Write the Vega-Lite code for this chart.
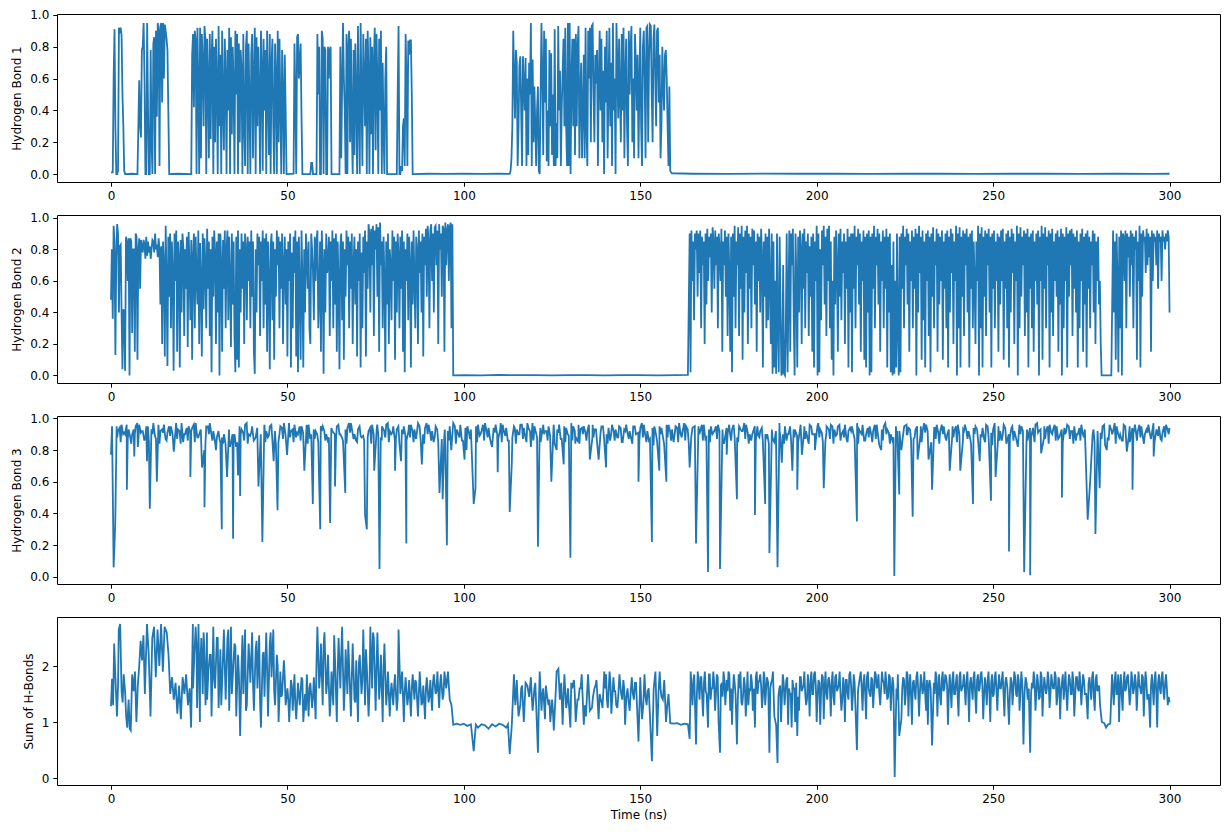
{
"$schema": "https://vega.github.io/schema/vega-lite/v6.json",
"padding": {"left": 10, "top": 8, "right": 5, "bottom": 5},
"spacing": 33,
"bounds": "flush",
"config": {
  "view": {"stroke": "black", "strokeWidth": 1},
  "axis": {"domain": false, "grid": false, "tickColor": "black", "tickSize": 4.2, "tickWidth": 1, "labelFont": "DejaVu Sans", "labelFontSize": 12, "labelColor": "black", "titleFont": "DejaVu Sans", "titleFontSize": 12, "titleFontWeight": "normal", "titleColor": "black", "labelPadding": 4, "titlePadding": 6},
  "line": {"color": "#1f77b4", "strokeWidth": 1.8}
},
"datasets": {
"h1": [
{"t":0,"v":0.01},{"t":0.25,"v":0.01},{"t":0.5,"v":0.01},{"t":0.75,"v":0.6},{"t":1,"v":0.91},{"t":1.25,"v":0.3},{"t":1.5,"v":0},{"t":1.75,"v":0},{"t":2,"v":0.02},{"t":2.25,"v":0.92},{"t":2.5,"v":0.9},{"t":2.75,"v":0.92},{"t":3,"v":0.87},{"t":3.25,"v":0.5},{"t":3.5,"v":0.3},{"t":3.75,"v":0.02},{"t":4,"v":0},{"t":6,"v":0.002},{"t":7.5,"v":0},
{"t":8,"v":0.59},{"t":8.25,"v":0.3},{"t":8.5,"v":0.23},{"t":8.75,"v":0.78},{"t":9,"v":0.8},{"t":9.25,"v":0.95},{"t":9.5,"v":0.6},{"t":9.75,"v":0},{"t":10,"v":0},{"t":10.25,"v":0.95},{"t":10.5,"v":0.4},{"t":10.75,"v":0},{"t":11,"v":0},{"t":11.25,"v":0.78},{"t":11.5,"v":0.2},{"t":11.75,"v":0},{"t":12,"v":0.82},{"t":12.25,"v":0.86},{"t":12.5,"v":0},{"t":12.75,"v":0.9},{"t":13,"v":0.36},{"t":13.25,"v":0.95},{"t":13.5,"v":0.9},{"t":13.75,"v":0.05},{"t":14,"v":0.93},{"t":14.25,"v":0.95},{"t":14.5,"v":0.45},{"t":14.75,"v":0.95},{"t":15,"v":0.6},{"t":15.25,"v":0.94},{"t":15.5,"v":0.9},{"t":15.75,"v":0.85},{"t":16,"v":0.78},{"t":16.25,"v":0.4},{"t":16.5,"v":0},{"t":19,"v":0.002},{"t":22.5,"v":0},{"t":22.75,"v":0},
{"t":23,"v":0.75},{"t":23.25,"v":0.88},{"t":23.5,"v":0.42},{"t":23.75,"v":0.9},
{"t":24,"v":0.84},{"t":24.25,"v":0},{"t":24.5,"v":0.92},{"t":24.75,"v":0.55},
{"t":25,"v":0},{"t":25.25,"v":0.92},{"t":25.5,"v":0.1},{"t":25.75,"v":0.88},
{"t":26,"v":0.7},{"t":26.25,"v":0.3},{"t":26.5,"v":0.93},{"t":26.75,"v":0.85},
{"t":27,"v":0},{"t":27.25,"v":0.85},{"t":27.5,"v":0.6},{"t":27.75,"v":0.1},
{"t":28,"v":0.88},{"t":28.25,"v":0.22},{"t":28.5,"v":0.74},{"t":28.75,"v":0.9},
{"t":29,"v":0},{"t":29.25,"v":0.8},{"t":29.5,"v":0.2},{"t":29.75,"v":0.85},
{"t":30,"v":0.56},{"t":30.25,"v":0},{"t":30.5,"v":0.93},{"t":30.75,"v":0.3},
{"t":31,"v":0.75},{"t":31.25,"v":0},{"t":31.5,"v":0.9},{"t":31.75,"v":0.45},
{"t":32,"v":0.15},{"t":32.25,"v":0.85},{"t":32.5,"v":0.6},{"t":32.75,"v":0},
{"t":33,"v":0.78},{"t":33.25,"v":0.4},{"t":33.5,"v":0.92},{"t":33.75,"v":0},
{"t":34,"v":0.86},{"t":34.25,"v":0.25},{"t":34.5,"v":0.8},{"t":34.75,"v":0.55},
{"t":35,"v":0},{"t":35.25,"v":0.9},{"t":35.5,"v":0.5},{"t":35.75,"v":0.88},
{"t":36,"v":0},{"t":36.25,"v":0.82},{"t":36.5,"v":0.2},{"t":36.75,"v":0.78},
{"t":37,"v":0.65},{"t":37.25,"v":0},{"t":37.5,"v":0.88},{"t":37.75,"v":0.35},
{"t":38,"v":0.05},{"t":38.25,"v":0.8},{"t":38.5,"v":0.9},{"t":38.75,"v":0},
{"t":39,"v":0.82},{"t":39.25,"v":0.45},{"t":39.5,"v":0},{"t":39.75,"v":0.75},
{"t":40,"v":0.88},{"t":40.25,"v":0.1},{"t":40.5,"v":0.6},{"t":40.75,"v":0.92},
{"t":41,"v":0},{"t":41.25,"v":0.86},{"t":41.5,"v":0.3},{"t":41.75,"v":0.8},
{"t":42,"v":0.5},{"t":42.25,"v":0},{"t":42.5,"v":0.9},{"t":42.75,"v":0.65},
{"t":43,"v":0.02},{"t":43.25,"v":0.85},{"t":43.5,"v":0.4},{"t":43.75,"v":0.78},
{"t":44,"v":0},{"t":44.25,"v":0.9},{"t":44.5,"v":0.55},{"t":44.75,"v":0.12},
{"t":45,"v":0.88},{"t":45.25,"v":0},{"t":45.5,"v":0.7},{"t":45.75,"v":0.85},
{"t":46,"v":0.3},{"t":46.25,"v":0},{"t":46.5,"v":0.82},{"t":46.75,"v":0.6},
{"t":47,"v":0},{"t":47.25,"v":0.9},{"t":47.5,"v":0.2},{"t":47.75,"v":0.85},
{"t":48,"v":0.45},{"t":48.25,"v":0},{"t":48.5,"v":0.78},{"t":48.75,"v":0.5},
{"t":49,"v":0},{"t":49.25,"v":0.75},{"t":49.5,"v":0.4},{"t":49.75,"v":0},
{"t":50,"v":0},{"t":51.75,"v":0.002},
{"t":52,"v":0.82},{"t":52.25,"v":0.5},{"t":52.5,"v":0},{"t":52.75,"v":0.86},{"t":53,"v":0.88},{"t":53.25,"v":0.6},{"t":53.5,"v":0.7},{"t":53.75,"v":0.82},{"t":54,"v":0.35},{"t":54.25,"v":0},{"t":54.5,"v":0},{"t":56.5,"v":0},{"t":56.75,"v":0.07},{"t":57,"v":0.07},{"t":57.25,"v":0},{"t":58.25,"v":0},
{"t":58.5,"v":0.88},{"t":58.75,"v":0.5},{"t":59,"v":0.8},{"t":59.25,"v":0},{"t":59.5,"v":0},{"t":59.75,"v":0.9},{"t":60,"v":0.85},{"t":60.25,"v":0},{"t":60.5,"v":0.8},{"t":60.75,"v":0.78},{"t":61,"v":0},{"t":61.25,"v":0},{"t":61.5,"v":0.8},{"t":61.75,"v":0.6},{"t":62,"v":0.78},{"t":62.25,"v":0.8},{"t":62.5,"v":0},{"t":64.5,"v":0},{"t":64.75,"v":0},
{"t":65,"v":0.8},{"t":65.25,"v":0.1},{"t":65.5,"v":0.55},{"t":65.75,"v":0.95},
{"t":66,"v":0.6},{"t":66.25,"v":0.4},{"t":66.5,"v":0},{"t":66.75,"v":0.88},
{"t":67,"v":0},{"t":67.25,"v":0.8},{"t":67.5,"v":0.9},{"t":67.75,"v":0.2},
{"t":68,"v":0.85},{"t":68.25,"v":0.3},{"t":68.5,"v":0},{"t":68.75,"v":0.78},
{"t":69,"v":0.12},{"t":69.25,"v":0.82},{"t":69.5,"v":0.5},{"t":69.75,"v":0},
{"t":70,"v":0.93},{"t":70.25,"v":0.4},{"t":70.5,"v":0},{"t":70.75,"v":0.95},
{"t":71,"v":0.5},{"t":71.25,"v":0.05},{"t":71.5,"v":0.88},{"t":71.75,"v":0.6},
{"t":72,"v":0.3},{"t":72.25,"v":0.85},{"t":72.5,"v":0},{"t":72.75,"v":0.9},
{"t":73,"v":0.62},{"t":73.25,"v":0},{"t":73.5,"v":0.86},{"t":73.75,"v":0.25},
{"t":74,"v":0.8},{"t":74.25,"v":0},{"t":74.5,"v":0.7},{"t":74.75,"v":0.92},
{"t":75,"v":0.15},{"t":75.25,"v":0.88},{"t":75.5,"v":0.6},{"t":75.75,"v":0},
{"t":76,"v":0.85},{"t":76.25,"v":0.4},{"t":76.5,"v":0.9},{"t":76.75,"v":0},
{"t":77,"v":0.7},{"t":77.25,"v":0.25},{"t":77.5,"v":0},{"t":77.75,"v":0.6},
{"t":78,"v":0.8},{"t":78.25,"v":0},{"t":78.5,"v":0},{"t":81,"v":0},
{"t":81.25,"v":0.5},{"t":81.5,"v":0.93},{"t":81.75,"v":0},
{"t":82,"v":0},{"t":82.25,"v":0.05},{"t":82.5,"v":0.02},{"t":82.75,"v":0.3},
{"t":83,"v":0.35},{"t":83.25,"v":0.05},{"t":83.5,"v":0.88},{"t":83.75,"v":0.6},
{"t":84,"v":0.05},{"t":84.25,"v":0.84},{"t":84.5,"v":0.75},{"t":84.75,"v":0.84},
{"t":85,"v":0.84},{"t":85.25,"v":0.5},{"t":85.5,"v":0},
{"t":90,"v":0.002},{"t":95,"v":0.001},{"t":100,"v":0.002},{"t":105,"v":0.001},{"t":110,"v":0.002},{"t":113,"v":0.001},{"t":113.25,"v":0.02},{"t":113.5,"v":0.1},{"t":113.75,"v":0.3},
{"t":114,"v":0.9},{"t":114.25,"v":0.6},{"t":114.5,"v":0.35},{"t":114.75,"v":0.78},
{"t":115,"v":0.7},{"t":115.25,"v":0.05},{"t":115.5,"v":0.3},{"t":115.75,"v":0.68},
{"t":116,"v":0.74},{"t":116.25,"v":0.4},{"t":116.5,"v":0.05},{"t":116.75,"v":0.74},
{"t":117,"v":0.55},{"t":117.25,"v":0.4},{"t":117.5,"v":0.73},{"t":117.75,"v":0.05},
{"t":118,"v":0.6},{"t":118.25,"v":0.12},{"t":118.5,"v":0.7},{"t":118.75,"v":0.5},
{"t":119,"v":0.95},{"t":119.25,"v":0.05},{"t":119.5,"v":0.72},{"t":119.75,"v":0.2},
{"t":120,"v":0.55},{"t":120.25,"v":0.3},{"t":120.5,"v":0.05},{"t":120.75,"v":0.4},
{"t":121,"v":0.55},{"t":121.25,"v":0.02},{"t":121.5,"v":0},{"t":121.75,"v":0.5},
{"t":122,"v":0.95},{"t":122.25,"v":0.6},{"t":122.5,"v":0.12},{"t":122.75,"v":0.9},
{"t":123,"v":0.45},{"t":123.25,"v":0.85},{"t":123.5,"v":0.08},{"t":123.75,"v":0.4},
{"t":124,"v":0.05},{"t":124.25,"v":0.78},{"t":124.5,"v":0.3},{"t":124.75,"v":0.76},
{"t":125,"v":0.12},{"t":125.25,"v":0.5},{"t":125.5,"v":0.05},{"t":125.75,"v":0.91},
{"t":126,"v":0.05},{"t":126.25,"v":0.32},{"t":126.5,"v":0.1},{"t":126.75,"v":0.93},
{"t":127,"v":0.4},{"t":127.25,"v":0.65},{"t":127.5,"v":0.05},{"t":127.75,"v":0.42},
{"t":128,"v":0.65},{"t":128.25,"v":0.85},{"t":128.5,"v":0.3},{"t":128.75,"v":0.92},
{"t":129,"v":0.3},{"t":129.25,"v":0.05},{"t":129.5,"v":0.95},{"t":129.75,"v":0.05},
{"t":130,"v":0.95},{"t":130.25,"v":0},{"t":130.5,"v":0.6},{"t":130.75,"v":0.85},
{"t":131,"v":0.3},{"t":131.25,"v":0.85},{"t":131.5,"v":0.12},{"t":131.75,"v":0.88},
{"t":132,"v":0.3},{"t":132.25,"v":0.8},{"t":132.5,"v":0.93},{"t":132.75,"v":0.1},
{"t":133,"v":0.5},{"t":133.25,"v":0.7},{"t":133.5,"v":0.1},{"t":133.75,"v":0.4},
{"t":134,"v":0.75},{"t":134.25,"v":0.1},{"t":134.5,"v":0.92},{"t":134.75,"v":0.3},
{"t":135,"v":0.05},{"t":135.25,"v":0.9},{"t":135.5,"v":0.6},{"t":135.75,"v":0.92},
{"t":136,"v":0.2},{"t":136.25,"v":0.93},{"t":136.5,"v":0.94},{"t":136.75,"v":0.5},
{"t":137,"v":0.2},{"t":137.25,"v":0.75},{"t":137.5,"v":0.57},{"t":137.75,"v":0.78},
{"t":138,"v":0.05},{"t":138.25,"v":0.6},{"t":138.5,"v":0.9},{"t":138.75,"v":0.4},
{"t":139,"v":0.85},{"t":139.25,"v":0.2},{"t":139.5,"v":0.65},{"t":139.75,"v":0},
{"t":140,"v":0.8},{"t":140.25,"v":0.45},{"t":140.5,"v":0.9},{"t":140.75,"v":0.1},
{"t":141,"v":0.55},{"t":141.25,"v":0.92},{"t":141.5,"v":0.3},{"t":141.75,"v":0.7},
{"t":142,"v":0.05},{"t":142.25,"v":0.95},{"t":142.5,"v":0.4},{"t":142.75,"v":0.6},
{"t":143,"v":0},{"t":143.25,"v":0.95},{"t":143.5,"v":0.7},{"t":143.75,"v":0.35},
{"t":144,"v":0.85},{"t":144.25,"v":0.5},{"t":144.5,"v":0.2},{"t":144.75,"v":0.88},
{"t":145,"v":0.4},{"t":145.25,"v":0.92},{"t":145.5,"v":0.1},{"t":145.75,"v":0.6},
{"t":146,"v":0.85},{"t":146.25,"v":0.3},{"t":146.5,"v":0.05},{"t":146.75,"v":0.9},
{"t":147,"v":0.5},{"t":147.25,"v":0.8},{"t":147.5,"v":0.93},{"t":147.75,"v":0.2},
{"t":148,"v":0.6},{"t":148.25,"v":0.1},{"t":148.5,"v":0.88},{"t":148.75,"v":0.7},
{"t":149,"v":0.4},{"t":149.25,"v":0.75},{"t":149.5,"v":0.1},{"t":149.75,"v":0.55},
{"t":150,"v":0.92},{"t":150.25,"v":0.3},{"t":150.5,"v":0.05},{"t":150.75,"v":0.8},
{"t":151,"v":0.9},{"t":151.25,"v":0.6},{"t":151.5,"v":0.1},{"t":151.75,"v":0.92},
{"t":152,"v":0.93},{"t":152.25,"v":0.2},{"t":152.5,"v":0.75},{"t":152.75,"v":0.94},
{"t":153,"v":0.93},{"t":153.25,"v":0.5},{"t":153.5,"v":0.2},{"t":153.75,"v":0.85},
{"t":154,"v":0.94},{"t":154.25,"v":0.6},{"t":154.5,"v":0.3},{"t":154.75,"v":0.9},
{"t":155,"v":0.92},{"t":155.25,"v":0.45},{"t":155.5,"v":0.75},{"t":155.75,"v":0.1},
{"t":156,"v":0.3},{"t":156.25,"v":0.8},{"t":156.5,"v":0.57},{"t":156.75,"v":0.4},
{"t":157,"v":0.75},{"t":157.25,"v":0.78},{"t":157.5,"v":0.6},{"t":157.75,"v":0.3},
{"t":158,"v":0.05},{"t":158.25,"v":0.55},{"t":158.5,"v":0.02},{"t":158.75,"v":0.01},{"t":159,"v":0.005},
{"t":165,"v":0.002},{"t":175,"v":0.001},{"t":185,"v":0.003},{"t":195,"v":0.002},{"t":205,"v":0.002},{"t":215,"v":0.001},{"t":225,"v":0.002},{"t":235,"v":0.002},{"t":245,"v":0.001},{"t":255,"v":0.002},{"t":265,"v":0.002},{"t":275,"v":0.001},{"t":285,"v":0.002},{"t":295,"v":0.001},{"t":300,"v":0.002}
],
"h2": [
{"t":0,"v":0.48},{"t":0.25,"v":0.8},{"t":0.5,"v":0.36},{"t":0.75,"v":0.95},
{"t":1,"v":0.85},{"t":1.25,"v":0.13},{"t":1.5,"v":0.75},{"t":1.75,"v":0.96},
{"t":2,"v":0.9},{"t":2.25,"v":0.4},{"t":2.5,"v":0.82},{"t":2.75,"v":0.83},
{"t":3,"v":0.4},{"t":3.25,"v":0.04},{"t":3.5,"v":0.42},{"t":3.75,"v":0.4},
{"t":4,"v":0.03},{"t":4.25,"v":0.88},{"t":4.5,"v":0.85},{"t":4.75,"v":0.6},
{"t":5,"v":0.87},{"t":5.25,"v":0},{"t":5.5,"v":0.87},{"t":5.75,"v":0.85},
{"t":6,"v":0.27},{"t":6.25,"v":0.8},{"t":6.5,"v":0.8},{"t":6.75,"v":0.15},
{"t":7,"v":0.9},{"t":7.25,"v":0.88},{"t":7.5,"v":0.1},{"t":7.75,"v":0.8},
{"t":8,"v":0.87},{"t":8.25,"v":0.55},{"t":8.5,"v":0.86},{"t":8.75,"v":0.82},
{"t":9,"v":0.78},{"t":9.25,"v":0.86},{"t":9.5,"v":0.83},{"t":9.75,"v":0.74},
{"t":10,"v":0.88},{"t":10.25,"v":0.76},{"t":10.5,"v":0.85},{"t":10.75,"v":0.78},
{"t":11,"v":0.82},{"t":11.25,"v":0.74},{"t":11.5,"v":0.8},{"t":11.75,"v":0.86},
{"t":12,"v":0.85},{"t":12.25,"v":0.78},{"t":12.5,"v":0.9},{"t":12.75,"v":0.8},
{"t":13,"v":0.83},{"t":13.25,"v":0.75},{"t":13.5,"v":0.87},{"t":13.75,"v":0.8},
{"t":14,"v":0.45},{"t":14.25,"v":0.82},{"t":14.5,"v":0.2},{"t":14.75,"v":0.85},
{"t":15,"v":0.7},{"t":15.25,"v":0.12},{"t":15.5,"v":0.95},{"t":15.75,"v":0.6},
{"t":16,"v":0.06},{"t":16.25,"v":0.88},{"t":16.5,"v":0.5},{"t":16.75,"v":0.9},
{"t":17,"v":0.3},{"t":17.25,"v":0.85},{"t":17.5,"v":0.65},{"t":17.75,"v":0.03},
{"t":18,"v":0.9},{"t":18.25,"v":0.6},{"t":18.5,"v":0.92},{"t":18.75,"v":0.15},
{"t":19,"v":0.85},{"t":19.25,"v":0.75},{"t":19.5,"v":0.05},{"t":19.75,"v":0.86},
{"t":20,"v":0.4},{"t":20.25,"v":0.9},{"t":20.5,"v":0.82},{"t":20.75,"v":0.25},
{"t":21,"v":0.8},{"t":21.25,"v":0.55},{"t":21.5,"v":0.88},{"t":21.75,"v":0.18},
{"t":22,"v":0.91},{"t":22.25,"v":0.7},{"t":22.5,"v":0.35},{"t":22.75,"v":0.86},
{"t":23,"v":0.1},{"t":23.25,"v":0.75},{"t":23.5,"v":0.9},{"t":23.75,"v":0.3},
{"t":24,"v":0.88},{"t":24.25,"v":0.62},{"t":24.5,"v":0.45},{"t":24.75,"v":0.92},
{"t":25,"v":0.2},{"t":25.25,"v":0.84},{"t":25.5,"v":0.6},{"t":25.75,"v":0.12},
{"t":26,"v":0.9},{"t":26.25,"v":0.42},{"t":26.5,"v":0.87},{"t":26.75,"v":0.7},
{"t":27,"v":0.3},{"t":27.25,"v":0.93},{"t":27.5,"v":0.55},{"t":27.75,"v":0.85},
{"t":28,"v":0.25},{"t":28.25,"v":0.8},{"t":28.5,"v":0.02},{"t":28.75,"v":0.88},
{"t":29,"v":0.5},{"t":29.25,"v":0.92},{"t":29.5,"v":0.78},{"t":29.75,"v":0.2},
{"t":30,"v":0.85},{"t":30.25,"v":0.4},{"t":30.5,"v":0.9},{"t":30.75,"v":0},
{"t":31,"v":0.9},{"t":31.25,"v":0.7},{"t":31.5,"v":0.15},{"t":31.75,"v":0.86},
{"t":32,"v":0.55},{"t":32.25,"v":0.92},{"t":32.5,"v":0.3},{"t":32.75,"v":0.8},
{"t":33,"v":0.92},{"t":33.25,"v":0.35},{"t":33.5,"v":0.88},{"t":33.75,"v":0.6},
{"t":34,"v":0.18},{"t":34.25,"v":0.9},{"t":34.5,"v":0.45},{"t":34.75,"v":0.85},
{"t":35,"v":0.25},{"t":35.25,"v":0.02},{"t":35.5,"v":0.88},{"t":35.75,"v":0.1},
{"t":36,"v":0.92},{"t":36.25,"v":0.05},{"t":36.5,"v":0.8},{"t":36.75,"v":0.4},
{"t":37,"v":0.9},{"t":37.25,"v":0.55},{"t":37.5,"v":0.85},{"t":37.75,"v":0.2},
{"t":38,"v":0.9},{"t":38.25,"v":0.8},{"t":38.5,"v":0.35},{"t":38.75,"v":0.88},
{"t":39,"v":0.6},{"t":39.25,"v":0.85},{"t":39.5,"v":0.3},{"t":39.75,"v":0.92},
{"t":40,"v":0.5},{"t":40.25,"v":0.85},{"t":40.5,"v":0.15},{"t":40.75,"v":0.01},
{"t":41,"v":0.8},{"t":41.25,"v":0.4},{"t":41.5,"v":0.9},{"t":41.75,"v":0.7},
{"t":42,"v":0.88},{"t":42.25,"v":0.25},{"t":42.5,"v":0.85},{"t":42.75,"v":0.6},
{"t":43,"v":0.92},{"t":43.25,"v":0.3},{"t":43.5,"v":0.87},{"t":43.75,"v":0.45},
{"t":44,"v":0.9},{"t":44.25,"v":0.15},{"t":44.5,"v":0.85},{"t":44.75,"v":0.6},
{"t":45,"v":0.04},{"t":45.25,"v":0.82},{"t":45.5,"v":0.9},{"t":45.75,"v":0.35},
{"t":46,"v":0.85},{"t":46.25,"v":0.1},{"t":46.5,"v":0.8},{"t":46.75,"v":0.5},
{"t":47,"v":0.92},{"t":47.25,"v":0.7},{"t":47.5,"v":0.88},{"t":47.75,"v":0.3},
{"t":48,"v":0.85},{"t":48.25,"v":0.55},{"t":48.5,"v":0.9},{"t":48.75,"v":0.2},
{"t":49,"v":0.7},{"t":49.25,"v":0.88},{"t":49.5,"v":0.45},{"t":49.75,"v":0.8},
{"t":50,"v":0.12},{"t":50.25,"v":0.85},{"t":50.5,"v":0.6},{"t":50.75,"v":0.9},
{"t":51,"v":0.05},{"t":51.25,"v":0.78},{"t":51.5,"v":0.3},{"t":51.75,"v":0.88},
{"t":52,"v":0.65},{"t":52.25,"v":0.92},{"t":52.5,"v":0.12},{"t":52.75,"v":0.85},
{"t":53,"v":0.02},{"t":53.25,"v":0.88},{"t":53.5,"v":0.55},{"t":53.75,"v":0.1},
{"t":54,"v":0.92},{"t":54.25,"v":0.6},{"t":54.5,"v":0.05},{"t":54.75,"v":0.8},
{"t":55,"v":0.4},{"t":55.25,"v":0.9},{"t":55.5,"v":0.75},{"t":55.75,"v":0.55},
{"t":56,"v":0.85},{"t":56.25,"v":0.3},{"t":56.5,"v":0.2},{"t":56.75,"v":0.9},
{"t":57,"v":0.8},{"t":57.25,"v":0.65},{"t":57.5,"v":0.35},{"t":57.75,"v":0.88},
{"t":58,"v":0.6},{"t":58.25,"v":0.85},{"t":58.5,"v":0.92},{"t":58.75,"v":0.3},
{"t":59,"v":0.5},{"t":59.25,"v":0.85},{"t":59.5,"v":0.15},{"t":59.75,"v":0.92},
{"t":60,"v":0.7},{"t":60.25,"v":0.01},{"t":60.5,"v":0.8},{"t":60.75,"v":0.4},
{"t":61,"v":0.9},{"t":61.25,"v":0.65},{"t":61.5,"v":0.7},{"t":61.75,"v":0.88},
{"t":62,"v":0.25},{"t":62.25,"v":0.85},{"t":62.5,"v":0.6},{"t":62.75,"v":0.92},
{"t":63,"v":0.3},{"t":63.25,"v":0.87},{"t":63.5,"v":0.45},{"t":63.75,"v":0.9},
{"t":64,"v":0.15},{"t":64.25,"v":0.85},{"t":64.5,"v":0.6},{"t":64.75,"v":0.04},
{"t":65,"v":0.82},{"t":65.25,"v":0.9},{"t":65.5,"v":0.35},{"t":65.75,"v":0.85},
{"t":66,"v":0.1},{"t":66.25,"v":0.8},{"t":66.5,"v":0.5},{"t":66.75,"v":0.92},
{"t":67,"v":0.7},{"t":67.25,"v":0.88},{"t":67.5,"v":0.3},{"t":67.75,"v":0.85},
{"t":68,"v":0.55},{"t":68.25,"v":0.9},{"t":68.5,"v":0.2},{"t":68.75,"v":0.7},
{"t":69,"v":0.88},{"t":69.25,"v":0.45},{"t":69.5,"v":0.8},{"t":69.75,"v":0.12},
{"t":70,"v":0.85},{"t":70.25,"v":0.6},{"t":70.5,"v":0.9},{"t":70.75,"v":0.05},
{"t":71,"v":0.78},{"t":71.25,"v":0.3},{"t":71.5,"v":0.88},{"t":71.75,"v":0.65},
{"t":72,"v":0.92},{"t":72.25,"v":0.12},{"t":72.5,"v":0.85},{"t":72.75,"v":0.55},
{"t":73,"v":0.96},{"t":73.25,"v":0.9},{"t":73.5,"v":0.4},{"t":73.75,"v":0.93},
{"t":74,"v":0.7},{"t":74.25,"v":0.95},{"t":74.5,"v":0.25},{"t":74.75,"v":0.92},
{"t":75,"v":0.8},{"t":75.25,"v":0.96},{"t":75.5,"v":0.5},{"t":75.75,"v":0.94},
{"t":76,"v":0.15},{"t":76.25,"v":0.97},{"t":76.5,"v":0.7},{"t":76.75,"v":0.85},
{"t":77,"v":0.3},{"t":77.25,"v":0.88},{"t":77.5,"v":0.6},{"t":77.75,"v":0.02},
{"t":78,"v":0.85},{"t":78.25,"v":0.45},{"t":78.5,"v":0.9},{"t":78.75,"v":0.2},
{"t":79,"v":0.8},{"t":79.25,"v":0.7},{"t":79.5,"v":0.35},{"t":79.75,"v":0.92},
{"t":80,"v":0.6},{"t":80.25,"v":0.88},{"t":80.5,"v":0.1},{"t":80.75,"v":0.85},
{"t":81,"v":0.4},{"t":81.25,"v":0.9},{"t":81.5,"v":0.75},{"t":81.75,"v":0.3},
{"t":82,"v":0.88},{"t":82.25,"v":0.55},{"t":82.5,"v":0.92},{"t":82.75,"v":0.15},
{"t":83,"v":0.85},{"t":83.25,"v":0.02},{"t":83.5,"v":0.8},{"t":83.75,"v":0.6},
{"t":84,"v":0.9},{"t":84.25,"v":0.35},{"t":84.5,"v":0.88},{"t":84.75,"v":0.7},
{"t":85,"v":0.05},{"t":85.25,"v":0.85},{"t":85.5,"v":0.45},{"t":85.75,"v":0.92},
{"t":86,"v":0.6},{"t":86.25,"v":0.3},{"t":86.5,"v":0.88},{"t":86.75,"v":0.8},
{"t":87,"v":0.2},{"t":87.25,"v":0.92},{"t":87.5,"v":0.65},{"t":87.75,"v":0.85},
{"t":88,"v":0.4},{"t":88.25,"v":0.9},{"t":88.5,"v":0.12},{"t":88.75,"v":0.88},
{"t":89,"v":0.7},{"t":89.25,"v":0.93},{"t":89.5,"v":0.5},{"t":89.75,"v":0.95},
{"t":90,"v":0.85},{"t":90.25,"v":0.3},{"t":90.5,"v":0.92},{"t":90.75,"v":0.96},
{"t":91,"v":0.6},{"t":91.25,"v":0.9},{"t":91.5,"v":0.4},{"t":91.75,"v":0.94},
{"t":92,"v":0.95},{"t":92.25,"v":0.7},{"t":92.5,"v":0.92},{"t":92.75,"v":0.2},
{"t":93,"v":0.96},{"t":93.25,"v":0.8},{"t":93.5,"v":0.9},{"t":93.75,"v":0.5},
{"t":94,"v":0.95},{"t":94.25,"v":0.93},{"t":94.5,"v":0.15},{"t":94.75,"v":0.97},
{"t":95,"v":0.7},{"t":95.25,"v":0.92},{"t":95.5,"v":0.96},{"t":95.75,"v":0.6},
{"t":96,"v":0.94},{"t":96.25,"v":0.97},{"t":96.5,"v":0.3},{"t":96.75,"v":0.96},{"t":97,"v":0},
{"t":100,"v":0.002},{"t":105,"v":0.001},{"t":110,"v":0.003},{"t":115,"v":0.002},{"t":120,"v":0.002},{"t":125,"v":0.001},{"t":130,"v":0.002},{"t":135,"v":0.002},{"t":140,"v":0.001},{"t":145,"v":0.002},{"t":150,"v":0.002},{"t":155,"v":0.001},{"t":160,"v":0.002},{"t":163.5,"v":0.004},
{"t":164,"v":0.9},{"t":164.25,"v":0.02},{"t":164.5,"v":0.92},{"t":164.75,"v":0.6},
{"t":165,"v":0.85},{"t":165.25,"v":0.35},{"t":165.5,"v":0.9},{"t":165.75,"v":0.8},
{"t":166,"v":0.92},{"t":166.25,"v":0.5},{"t":166.5,"v":0.9},{"t":166.75,"v":0.65},
{"t":167,"v":0.92},{"t":167.25,"v":0.3},{"t":167.5,"v":0.88},{"t":167.75,"v":0.7},
{"t":168,"v":0.85},{"t":168.25,"v":0.2},{"t":168.5,"v":0.9},{"t":168.75,"v":0.45},
{"t":169,"v":0.93},{"t":169.25,"v":0.6},{"t":169.5,"v":0.88},{"t":169.75,"v":0.75},
{"t":170,"v":0.9},{"t":170.25,"v":0.4},{"t":170.5,"v":0.94},{"t":170.75,"v":0.85},
{"t":171,"v":0.55},{"t":171.25,"v":0.92},{"t":171.5,"v":0.7},{"t":171.75,"v":0.88},
{"t":172,"v":0.3},{"t":172.25,"v":0.9},{"t":172.5,"v":0.8},{"t":172.75,"v":0.6},
{"t":173,"v":0.93},{"t":173.25,"v":0.15},{"t":173.5,"v":0.85},{"t":173.75,"v":0.7},
{"t":174,"v":0.92},{"t":174.25,"v":0.5},{"t":174.5,"v":0.88},{"t":174.75,"v":0.25},
{"t":175,"v":0.9},{"t":175.25,"v":0.65},{"t":175.5,"v":0.15},{"t":175.75,"v":0.88},
{"t":176,"v":0.02},{"t":176.25,"v":0.9},{"t":176.5,"v":0.5},{"t":176.75,"v":0.95},
{"t":177,"v":0.3},{"t":177.25,"v":0.85},{"t":177.5,"v":0.7},{"t":177.75,"v":0.94},
{"t":178,"v":0.25},{"t":178.25,"v":0.9},{"t":178.5,"v":0.55},{"t":178.75,"v":0.95},
{"t":179,"v":0.1},{"t":179.25,"v":0.88},{"t":179.5,"v":0.4},{"t":179.75,"v":0.92},
{"t":180,"v":0.65},{"t":180.25,"v":0.95},{"t":180.5,"v":0.2},{"t":180.75,"v":0.9},
{"t":181,"v":0.55},{"t":181.25,"v":0.88},{"t":181.5,"v":0.3},{"t":181.75,"v":0.93},
{"t":182,"v":0.7},{"t":182.25,"v":0.92},{"t":182.5,"v":0.45},{"t":182.75,"v":0.85},
{"t":183,"v":0.15},{"t":183.25,"v":0.9},{"t":183.5,"v":0.6},{"t":183.75,"v":0.88},
{"t":184,"v":0.4},{"t":184.25,"v":0.93},{"t":184.5,"v":0.75},{"t":184.75,"v":0.05},
{"t":185,"v":0.85},{"t":185.25,"v":0.5},{"t":185.5,"v":0.9},{"t":185.75,"v":0.3},
{"t":186,"v":0.88},{"t":186.25,"v":0.35},{"t":186.5,"v":0.93},{"t":186.75,"v":0.6},
{"t":187,"v":0.2},{"t":187.25,"v":0.9},{"t":187.5,"v":0.01},{"t":187.75,"v":0.85},
{"t":188,"v":0.05},{"t":188.25,"v":0.6},{"t":188.5,"v":0.01},{"t":188.75,"v":0.9},
{"t":189,"v":0.3},{"t":189.25,"v":0.02},{"t":189.5,"v":0.88},{"t":189.75,"v":0.45},
{"t":190,"v":0},{"t":190.25,"v":0.02},{"t":190.5,"v":0.7},{"t":190.75,"v":0.01},
{"t":191,"v":0},{"t":191.25,"v":0.3},{"t":191.5,"v":0.9},{"t":191.75,"v":0.02},
{"t":192,"v":0.5},{"t":192.25,"v":0.92},{"t":192.5,"v":0.15},{"t":192.75,"v":0.9},
{"t":193,"v":0.7},{"t":193.25,"v":0.93},{"t":193.5,"v":0.35},{"t":193.75,"v":0},
{"t":194,"v":0.9},{"t":194.25,"v":0.6},{"t":194.5,"v":0.05},{"t":194.75,"v":0.88},
{"t":195,"v":0.4},{"t":195.25,"v":0.92},{"t":195.5,"v":0.8},{"t":195.75,"v":0.2},
{"t":196,"v":0.9},{"t":196.25,"v":0.55},{"t":196.5,"v":0.93},{"t":196.75,"v":0.3},
{"t":197,"v":0.85},{"t":197.25,"v":0.65},{"t":197.5,"v":0.9},{"t":197.75,"v":0.25},
{"t":198,"v":0.82},{"t":198.25,"v":0.5},{"t":198.5,"v":0.88},{"t":198.75,"v":0.15},
{"t":199,"v":0.9},{"t":199.25,"v":0.05},{"t":199.5,"v":0.85},{"t":199.75,"v":0.6},
{"t":200,"v":0.95},{"t":200.25,"v":0},{"t":200.5,"v":0.9},{"t":200.75,"v":0.02},
{"t":201,"v":0.8},{"t":201.25,"v":0.35},{"t":201.5,"v":0.92},{"t":201.75,"v":0.7},
{"t":202,"v":0.95},{"t":202.25,"v":0.45},{"t":202.5,"v":0.88},{"t":202.75,"v":0.25},
{"t":203,"v":0.93},{"t":203.25,"v":0.6},{"t":203.5,"v":0.95},{"t":203.75,"v":0.3},
{"t":204,"v":0.85},{"t":204.25,"v":0.1},{"t":204.5,"v":0.6},{"t":204.75,"v":0},
{"t":205,"v":0.88},{"t":205.25,"v":0.45},{"t":205.5,"v":0.92},{"t":205.75,"v":0.7},
{"t":206,"v":0.15},{"t":206.25,"v":0.9},{"t":206.5,"v":0.5},{"t":206.75,"v":0.93},
{"t":207,"v":0.35},{"t":207.25,"v":0.85},{"t":207.5,"v":0.65},{"t":207.75,"v":0.9},
{"t":208,"v":0.2},{"t":208.25,"v":0.85},{"t":208.5,"v":0.55},{"t":208.75,"v":0.93},
{"t":209,"v":0.05},{"t":209.25,"v":0.88},{"t":209.5,"v":0.4},{"t":209.75,"v":0.9},
{"t":210,"v":0.02},{"t":210.25,"v":0.9},{"t":210.5,"v":0.55},{"t":210.75,"v":0.95},
{"t":211,"v":0.3},{"t":211.25,"v":0.88},{"t":211.5,"v":0.7},{"t":211.75,"v":0.93},
{"t":212,"v":0.45},{"t":212.25,"v":0.9},{"t":212.5,"v":0.15},{"t":212.75,"v":0.85},
{"t":213,"v":0.6},{"t":213.25,"v":0.92},{"t":213.5,"v":0.1},{"t":213.75,"v":0.88},
{"t":214,"v":0.05},{"t":214.25,"v":0.9},{"t":214.5,"v":0.4},{"t":214.75,"v":0.92},
{"t":215,"v":0},{"t":215.25,"v":0.88},{"t":215.5,"v":0.02},{"t":215.75,"v":0.9},
{"t":216,"v":0.55},{"t":216.25,"v":0.95},{"t":216.5,"v":0.3},{"t":216.75,"v":0.88},
{"t":217,"v":0.7},{"t":217.25,"v":0.93},{"t":217.5,"v":0.45},{"t":217.75,"v":0.9},
{"t":218,"v":0.15},{"t":218.25,"v":0.85},{"t":218.5,"v":0.6},{"t":218.75,"v":0.92},
{"t":219,"v":0.3},{"t":219.25,"v":0.88},{"t":219.5,"v":0.55},{"t":219.75,"v":0.93},
{"t":220,"v":0.05},{"t":220.25,"v":0.88},{"t":220.5,"v":0.4},{"t":220.75,"v":0.9},
{"t":221,"v":0.02},{"t":221.25,"v":0.7},{"t":221.5,"v":0},{"t":221.75,"v":0.85},
{"t":222,"v":0.01},{"t":222.25,"v":0.6},{"t":222.5,"v":0.05},{"t":222.75,"v":0.9},
{"t":223,"v":0.3},{"t":223.25,"v":0},{"t":223.5,"v":0.88},{"t":223.75,"v":0.02},
{"t":224,"v":0.9},{"t":224.25,"v":0.55},{"t":224.5,"v":0.95},{"t":224.75,"v":0.3},
{"t":225,"v":0.88},{"t":225.25,"v":0.7},{"t":225.5,"v":0.93},{"t":225.75,"v":0.45},
{"t":226,"v":0.9},{"t":226.25,"v":0.15},{"t":226.5,"v":0.85},{"t":226.75,"v":0.6},
{"t":227,"v":0.92},{"t":227.25,"v":0.3},{"t":227.5,"v":0.88},{"t":227.75,"v":0.55},
{"t":228,"v":0.93},{"t":228.25,"v":0},{"t":228.5,"v":0.9},{"t":228.75,"v":0.4},
{"t":229,"v":0.95},{"t":229.25,"v":0.65},{"t":229.5,"v":0.88},{"t":229.75,"v":0.1},
{"t":230,"v":0.92},{"t":230.25,"v":0.35},{"t":230.5,"v":0.85},{"t":230.75,"v":0.05},
{"t":231,"v":0.9},{"t":231.25,"v":0.6},{"t":231.5,"v":0.92},{"t":231.75,"v":0.25},
{"t":232,"v":0.88},{"t":232.25,"v":0.02},{"t":232.5,"v":0.9},{"t":232.75,"v":0.5},
{"t":233,"v":0.94},{"t":233.25,"v":0.3},{"t":233.5,"v":0.85},{"t":233.75,"v":0.7},
{"t":234,"v":0.93},{"t":234.25,"v":0.15},{"t":234.5,"v":0.9},{"t":234.75,"v":0.45},
{"t":235,"v":0.88},{"t":235.25,"v":0.6},{"t":235.5,"v":0.92},{"t":235.75,"v":0.1},
{"t":236,"v":0.85},{"t":236.25,"v":0.55},{"t":236.5,"v":0.9},{"t":236.75,"v":0.3},
{"t":237,"v":0.92},{"t":237.25,"v":0.05},{"t":237.5,"v":0.88},{"t":237.75,"v":0.4},
{"t":238,"v":0.93},{"t":238.25,"v":0.65},{"t":238.5,"v":0.9},{"t":238.75,"v":0.2},
{"t":239,"v":0.85},{"t":239.25,"v":0.6},{"t":239.5,"v":0.95},{"t":239.75,"v":0},
{"t":240,"v":0.9},{"t":240.25,"v":0.3},{"t":240.5,"v":0.94},{"t":240.75,"v":0.05},
{"t":241,"v":0.88},{"t":241.25,"v":0.5},{"t":241.5,"v":0.92},{"t":241.75,"v":0.25},
{"t":242,"v":0.9},{"t":242.25,"v":0.7},{"t":242.5,"v":0.93},{"t":242.75,"v":0.4},
{"t":243,"v":0.88},{"t":243.25,"v":0.05},{"t":243.5,"v":0.9},{"t":243.75,"v":0.55},
{"t":244,"v":0.92},{"t":244.25,"v":0.3},{"t":244.5,"v":0.85},{"t":244.75,"v":0.6},
{"t":245,"v":0.2},{"t":245.25,"v":0.85},{"t":245.5,"v":0.6},{"t":245.75,"v":0.95},
{"t":246,"v":0},{"t":246.25,"v":0.9},{"t":246.5,"v":0.3},{"t":246.75,"v":0.94},
{"t":247,"v":0.05},{"t":247.25,"v":0.88},{"t":247.5,"v":0.5},{"t":247.75,"v":0.92},
{"t":248,"v":0.25},{"t":248.25,"v":0.9},{"t":248.5,"v":0.7},{"t":248.75,"v":0.93},
{"t":249,"v":0.4},{"t":249.25,"v":0.88},{"t":249.5,"v":0.05},{"t":249.75,"v":0.9},
{"t":250,"v":0.55},{"t":250.25,"v":0.92},{"t":250.5,"v":0.3},{"t":250.75,"v":0.85},
{"t":251,"v":0.6},{"t":251.25,"v":0.9},{"t":251.5,"v":0.15},{"t":251.75,"v":0.88},
{"t":252,"v":0.45},{"t":252.25,"v":0.92},{"t":252.5,"v":0.6},{"t":252.75,"v":0.93},
{"t":253,"v":0.1},{"t":253.25,"v":0.85},{"t":253.5,"v":0.55},{"t":253.75,"v":0.9},
{"t":254,"v":0.3},{"t":254.25,"v":0.92},{"t":254.5,"v":0.05},{"t":254.75,"v":0.88},
{"t":255,"v":0.4},{"t":255.25,"v":0.93},{"t":255.5,"v":0.65},{"t":255.75,"v":0.9},
{"t":256,"v":0.2},{"t":256.25,"v":0.85},{"t":256.5,"v":0.6},{"t":256.75,"v":0.95},
{"t":257,"v":0},{"t":257.25,"v":0.9},{"t":257.5,"v":0.3},{"t":257.75,"v":0.94},
{"t":258,"v":0.5},{"t":258.25,"v":0.88},{"t":258.5,"v":0.7},{"t":258.75,"v":0.92},
{"t":259,"v":0.25},{"t":259.25,"v":0.9},{"t":259.5,"v":0.4},{"t":259.75,"v":0.93},
{"t":260,"v":0.05},{"t":260.25,"v":0.88},{"t":260.5,"v":0.55},{"t":260.75,"v":0.9},
{"t":261,"v":0.3},{"t":261.25,"v":0.92},{"t":261.5,"v":0.15},{"t":261.75,"v":0.85},
{"t":262,"v":0.6},{"t":262.25,"v":0.9},{"t":262.5,"v":0.45},{"t":262.75,"v":0.92},
{"t":263,"v":0},{"t":263.25,"v":0.88},{"t":263.5,"v":0.6},{"t":263.75,"v":0.95},
{"t":264,"v":0.1},{"t":264.25,"v":0.9},{"t":264.5,"v":0.55},{"t":264.75,"v":0.94},
{"t":265,"v":0.3},{"t":265.25,"v":0.88},{"t":265.5,"v":0.7},{"t":265.75,"v":0.92},
{"t":266,"v":0.05},{"t":266.25,"v":0.9},{"t":266.5,"v":0.4},{"t":266.75,"v":0.93},
{"t":267,"v":0.25},{"t":267.25,"v":0.85},{"t":267.5,"v":0.6},{"t":267.75,"v":0.9},
{"t":268,"v":0.5},{"t":268.25,"v":0.92},{"t":268.5,"v":0.15},{"t":268.75,"v":0.88},
{"t":269,"v":0.45},{"t":269.25,"v":0.93},{"t":269.5,"v":0},{"t":269.75,"v":0.9},
{"t":270,"v":0.3},{"t":270.25,"v":0.88},{"t":270.5,"v":0.6},{"t":270.75,"v":0.94},
{"t":271,"v":0.05},{"t":271.25,"v":0.9},{"t":271.5,"v":0.5},{"t":271.75,"v":0.92},
{"t":272,"v":0.7},{"t":272.25,"v":0.93},{"t":272.5,"v":0.25},{"t":272.75,"v":0.9},
{"t":273,"v":0.55},{"t":273.25,"v":0.88},{"t":273.5,"v":0.4},{"t":273.75,"v":0.92},
{"t":274,"v":0.05},{"t":274.25,"v":0.85},{"t":274.5,"v":0.3},{"t":274.75,"v":0.9},
{"t":275,"v":0.6},{"t":275.25,"v":0.93},{"t":275.5,"v":0.15},{"t":275.75,"v":0.88},
{"t":276,"v":0.45},{"t":276.25,"v":0.9},{"t":276.5,"v":0.05},{"t":276.75,"v":0.92},
{"t":277,"v":0.55},{"t":277.25,"v":0.88},{"t":277.5,"v":0.3},{"t":277.75,"v":0.85},
{"t":278,"v":0.7},{"t":278.25,"v":0.92},{"t":278.5,"v":0.4},{"t":278.75,"v":0.9},
{"t":279,"v":0.2},{"t":279.25,"v":0.85},{"t":279.5,"v":0.6},{"t":279.75,"v":0.88},
{"t":280,"v":0.45},{"t":280.25,"v":0.6},{"t":280.5,"v":0.2},{"t":280.75,"v":0},
{"t":282,"v":0},{"t":283.5,"v":0},
{"t":284,"v":0.92},{"t":284.25,"v":0.4},{"t":284.5,"v":0.85},{"t":284.75,"v":0.1},
{"t":285,"v":0.9},{"t":285.25,"v":0.6},{"t":285.5,"v":0.02},{"t":285.75,"v":0.88},
{"t":286,"v":0.3},{"t":286.25,"v":0.92},{"t":286.5,"v":0},{"t":286.75,"v":0.9},
{"t":287,"v":0.88},{"t":287.25,"v":0.6},{"t":287.5,"v":0.92},{"t":287.75,"v":0.3},
{"t":288,"v":0.9},{"t":288.25,"v":0.75},{"t":288.5,"v":0.88},{"t":288.75,"v":0.5},
{"t":289,"v":0.92},{"t":289.25,"v":0.7},{"t":289.5,"v":0.9},{"t":289.75,"v":0.3},
{"t":290,"v":0.88},{"t":290.25,"v":0.8},{"t":290.5,"v":0.92},{"t":290.75,"v":0.1},
{"t":291,"v":0.85},{"t":291.25,"v":0.6},{"t":291.5,"v":0.95},{"t":291.75,"v":0.05},
{"t":292,"v":0.9},{"t":292.25,"v":0.5},{"t":292.5,"v":0.92},{"t":292.75,"v":0.85},
{"t":293,"v":0.88},{"t":293.25,"v":0.65},{"t":293.5,"v":0.93},{"t":293.75,"v":0.7},
{"t":294,"v":0.9},{"t":294.25,"v":0.75},{"t":294.5,"v":0.88},{"t":294.75,"v":0.15},
{"t":295,"v":0.92},{"t":295.25,"v":0.6},{"t":295.5,"v":0.9},{"t":295.75,"v":0.85},
{"t":296,"v":0.88},{"t":296.25,"v":0.7},{"t":296.5,"v":0.92},{"t":296.75,"v":0.55},
{"t":297,"v":0.9},{"t":297.25,"v":0.85},{"t":297.5,"v":0.88},{"t":297.75,"v":0.6},
{"t":298,"v":0.92},{"t":298.25,"v":0.85},{"t":298.5,"v":0.88},{"t":298.75,"v":0.8},
{"t":299,"v":0.9},{"t":299.25,"v":0.85},{"t":299.5,"v":0.92},{"t":299.75,"v":0.88},{"t":300,"v":0.4}
],
"h3": [
{"t":0,"v":0.77},{"t":0.3,"v":0.95},{"t":0.75,"v":0.06},{"t":1.2,"v":0.33},{"t":1.6,"v":0.95},{"t":2,"v":0.92},{"t":3,"v":0.96},{"t":4,"v":0.9},{"t":4.5,"v":0.55},{"t":5,"v":0.93},{"t":6,"v":0.9},{"t":6.6,"v":0.76},{"t":7,"v":0.95},{"t":7.6,"v":0.82},{"t":8,"v":0.96},{"t":9,"v":0.92},{"t":10,"v":0.95},{"t":10.2,"v":0.73},{"t":11,"v":0.43},{"t":11.5,"v":0.93},{"t":12,"v":0.97},{"t":13,"v":0.6},{"t":13.5,"v":0.94},{"t":14,"v":0.92},{"t":15,"v":0.96},{"t":16,"v":0.91},{"t":17,"v":0.95},{"t":17.8,"v":0.79},{"t":18.5,"v":0.96},{"t":19,"v":0.93},{"t":20,"v":0.97},{"t":21,"v":0.9},{"t":22,"v":0.95},{"t":22.5,"v":0.63},{"t":23,"v":0.94},{"t":24,"v":0.97},{"t":25,"v":0.9},{"t":25.8,"v":0.69},{"t":26.5,"v":0.44},{"t":27,"v":0.95},{"t":28,"v":0.97},{"t":29,"v":0.92},{"t":30,"v":0.88},{"t":31,"v":0.85},{"t":31.4,"v":0.3},{"t":32,"v":0.9},{"t":32.9,"v":0.63},{"t":33.5,"v":0.85},{"t":34.6,"v":0.24},{"t":35,"v":0.9},{"t":36,"v":0.64},{"t":36.6,"v":0.51},{"t":37,"v":0.93},{"t":38,"v":0.96},{"t":39,"v":0.9},{"t":40,"v":0.95},{"t":41,"v":0.88},{"t":41.8,"v":0.57},{"t":42.9,"v":0.22},{"t":43.5,"v":0.96},{"t":44,"v":0.92},{"t":45,"v":0.95},{"t":46.1,"v":0.73},{"t":47.2,"v":0.42},{"t":48,"v":0.95},{"t":49,"v":0.97},{"t":49.9,"v":0.77},{"t":50.5,"v":0.95},{"t":51,"v":0.92},{"t":52,"v":0.96},{"t":53,"v":0.9},{"t":54,"v":0.95},{"t":54.8,"v":0.67},{"t":55.5,"v":0.93},{"t":56,"v":0.96},{"t":57.2,"v":0.46},{"t":58,"v":0.92},{"t":59.3,"v":0.3},{"t":60,"v":0.95},{"t":61,"v":0.9},{"t":62.1,"v":0.34},{"t":62.7,"v":0.92},{"t":63.5,"v":0.57},{"t":64,"v":0.95},{"t":65,"v":0.9},{"t":66.4,"v":0.53},{"t":67,"v":0.94},{"t":68,"v":0.97},{"t":69,"v":0.9},{"t":70,"v":0.93},{"t":71,"v":0.88},{"t":72,"v":0.39},{"t":72.5,"v":0.3},{"t":73,"v":0.92},{"t":74,"v":0.96},{"t":74.6,"v":0.67},{"t":75.3,"v":0.93},{"t":76.1,"v":0.05},{"t":76.8,"v":0.95},{"t":77.5,"v":0.9},{"t":78,"v":0.96},{"t":79,"v":0.92},{"t":80,"v":0.95},{"t":80.5,"v":0.67},{"t":81,"v":0.93},{"t":82.2,"v":0.73},{"t":83,"v":0.95},{"t":83.7,"v":0.21},{"t":84.3,"v":0.92},{"t":85,"v":0.96},{"t":86,"v":0.93},{"t":87,"v":0.97},{"t":88.1,"v":0.71},{"t":89,"v":0.94},{"t":90,"v":0.96},{"t":91,"v":0.92},{"t":92,"v":0.95},{"t":93.1,"v":0.53},{"t":94,"v":0.49},{"t":94.6,"v":0.93},{"t":95.2,"v":0.2},{"t":96,"v":0.95},{"t":97,"v":0.97},{"t":98,"v":0.93},{"t":99,"v":0.96},{"t":100.2,"v":0.74},{"t":101,"v":0.95},{"t":102,"v":0.93},{"t":102.8,"v":0.46},{"t":103.3,"v":0.56},{"t":104,"v":0.96},{"t":105,"v":0.92},{"t":106,"v":0.97},{"t":107,"v":0.94},{"t":108,"v":0.82},{"t":109,"v":0.96},{"t":109.6,"v":0.66},{"t":110.3,"v":0.93},{"t":111,"v":0.96},{"t":112,"v":0.94},{"t":113,"v":0.41},{"t":113.6,"v":0.72},{"t":114.2,"v":0.95},{"t":115,"v":0.93},{"t":116,"v":0.96},{"t":117,"v":0.94},{"t":118,"v":0.97},{"t":119,"v":0.82},{"t":120,"v":0.95},{"t":121,"v":0.19},{"t":121.7,"v":0.94},{"t":122.5,"v":0.96},{"t":123,"v":0.92},{"t":124,"v":0.95},{"t":124.8,"v":0.6},{"t":125.5,"v":0.95},{"t":126.3,"v":0.8},{"t":127,"v":0.96},{"t":128.3,"v":0.71},{"t":129,"v":0.94},{"t":130.2,"v":0.12},{"t":131,"v":0.95},{"t":131.6,"v":0.84},{"t":132.5,"v":0.96},{"t":133,"v":0.93},{"t":134,"v":0.95},{"t":135,"v":0.92},{"t":135.7,"v":0.74},{"t":136.5,"v":0.96},{"t":137,"v":0.93},{"t":138.2,"v":0.74},{"t":139,"v":0.95},{"t":140.3,"v":0.69},{"t":141,"v":0.94},{"t":142,"v":0.96},{"t":143,"v":0.93},{"t":144,"v":0.95},{"t":145,"v":0.85},{"t":146,"v":0.96},{"t":147,"v":0.92},{"t":148,"v":0.95},{"t":149.5,"v":0.6},{"t":150,"v":0.94},{"t":151,"v":0.96},{"t":152,"v":0.92},{"t":153.3,"v":0.22},{"t":154,"v":0.95},{"t":155.4,"v":0.67},{"t":156,"v":0.94},{"t":157.4,"v":0.6},{"t":158,"v":0.96},{"t":159,"v":0.93},{"t":160,"v":0.95},{"t":161,"v":0.97},{"t":162,"v":0.92},{"t":163,"v":0.95},{"t":164,"v":0.69},{"t":164.8,"v":0.94},{"t":165.8,"v":0.21},{"t":166.5,"v":0.95},{"t":167,"v":0.92},{"t":168,"v":0.96},{"t":169.2,"v":0.03},{"t":170,"v":0.95},{"t":171,"v":0.92},{"t":172,"v":0.96},{"t":172.6,"v":0.05},{"t":173.3,"v":0.93},{"t":174.5,"v":0.77},{"t":175.2,"v":0.96},{"t":176,"v":0.93},{"t":177.4,"v":0.49},{"t":178,"v":0.95},{"t":179,"v":0.92},{"t":180,"v":0.96},{"t":181,"v":0.9},{"t":182.5,"v":0.39},{"t":183.2,"v":0.95},{"t":184,"v":0.92},{"t":185.4,"v":0.46},{"t":186,"v":0.9},{"t":186.6,"v":0.15},{"t":187.3,"v":0.93},{"t":188,"v":0.85},{"t":188.9,"v":0.06},{"t":189.5,"v":0.92},{"t":190.1,"v":0.72},{"t":191,"v":0.95},{"t":192,"v":0.9},{"t":193.1,"v":0.67},{"t":193.8,"v":0.93},{"t":194.5,"v":0.55},{"t":195.2,"v":0.92},{"t":195.8,"v":0.77},{"t":196.5,"v":0.95},{"t":197,"v":0.92},{"t":198,"v":0.96},{"t":199.5,"v":0.8},{"t":200.2,"v":0.95},{"t":201,"v":0.93},{"t":202,"v":0.56},{"t":202.8,"v":0.95},{"t":203.5,"v":0.92},{"t":204,"v":0.96},{"t":205,"v":0.93},{"t":206,"v":0.95},{"t":207,"v":0.9},{"t":208,"v":0.96},{"t":209,"v":0.92},{"t":210,"v":0.95},{"t":211.4,"v":0.35},{"t":212,"v":0.93},{"t":213,"v":0.96},{"t":214,"v":0.9},{"t":215,"v":0.95},{"t":216,"v":0.92},{"t":217,"v":0.96},{"t":218.3,"v":0.8},{"t":219,"v":0.95},{"t":220,"v":0.93},{"t":221,"v":0.9},{"t":222,"v":0.005},{"t":222.8,"v":0.92},{"t":223.4,"v":0.52},{"t":224,"v":0.8},{"t":224.8,"v":0.95},{"t":225.5,"v":0.9},{"t":226,"v":0.94},{"t":227.2,"v":0.38},{"t":228,"v":0.93},{"t":228.6,"v":0.74},{"t":229.5,"v":0.95},{"t":230,"v":0.92},{"t":231,"v":0.96},{"t":231.7,"v":0.74},{"t":232.7,"v":0.55},{"t":233.3,"v":0.94},{"t":234,"v":0.96},{"t":235,"v":0.92},{"t":236,"v":0.95},{"t":237,"v":0.9},{"t":237.7,"v":0.67},{"t":238.5,"v":0.95},{"t":239,"v":0.92},{"t":240,"v":0.96},{"t":240.7,"v":0.67},{"t":241.5,"v":0.93},{"t":242,"v":0.96},{"t":243,"v":0.92},{"t":244.3,"v":0.46},{"t":245,"v":0.95},{"t":246.2,"v":0.73},{"t":247,"v":0.94},{"t":248,"v":0.96},{"t":249.4,"v":0.48},{"t":250,"v":0.93},{"t":250.7,"v":0.63},{"t":251.5,"v":0.95},{"t":252,"v":0.92},{"t":253,"v":0.96},{"t":254.5,"v":0.16},{"t":255.2,"v":0.94},{"t":256,"v":0.92},{"t":257,"v":0.82},{"t":258,"v":0.95},{"t":258.8,"v":0.03},{"t":259.6,"v":0.93},{"t":260.5,"v":0.01},{"t":261.3,"v":0.94},{"t":262,"v":0.96},{"t":263,"v":0.92},{"t":263.6,"v":0.78},{"t":264.5,"v":0.95},{"t":265,"v":0.92},{"t":266,"v":0.96},{"t":267,"v":0.93},{"t":268,"v":0.95},{"t":269.5,"v":0.5},{"t":270.2,"v":0.94},{"t":271,"v":0.96},{"t":272,"v":0.92},{"t":273,"v":0.95},{"t":274,"v":0.9},{"t":275,"v":0.96},{"t":276,"v":0.93},{"t":276.8,"v":0.36},{"t":277.5,"v":0.6},{"t":278.2,"v":0.9},{"t":279,"v":0.27},{"t":279.6,"v":0.92},{"t":280.2,"v":0.56},{"t":281,"v":0.95},{"t":282.2,"v":0.8},{"t":283,"v":0.96},{"t":284,"v":0.92},{"t":285,"v":0.95},{"t":286,"v":0.9},{"t":287,"v":0.96},{"t":287.9,"v":0.79},{"t":288.7,"v":0.95},{"t":289.5,"v":0.55},{"t":290.2,"v":0.96},{"t":291,"v":0.92},{"t":292,"v":0.95},{"t":293,"v":0.9},{"t":294,"v":0.96},{"t":295.5,"v":0.76},{"t":296.3,"v":0.93},{"t":297,"v":0.95},{"t":298,"v":0.91},{"t":299,"v":0.96},{"t":300,"v":0.94},
{"t":2.45,"v":0.94},{"t":3.45,"v":0.9},{"t":4.45,"v":0.96},{"t":5.45,"v":0.88},{"t":6.45,"v":0.93},{"t":7.45,"v":0.97},{"t":8.45,"v":0.91},{"t":9.45,"v":0.86},{"t":10.45,"v":0.95},{"t":11.45,"v":0.92},
{"t":12.45,"v":0.89},{"t":13.45,"v":0.96},{"t":14.45,"v":0.93},{"t":15.45,"v":0.87},{"t":16.45,"v":0.95},{"t":17.45,"v":0.9},{"t":18.45,"v":0.97},{"t":19.45,"v":0.92},{"t":20.45,"v":0.85},{"t":21.45,"v":0.94},
{"t":22.45,"v":0.91},{"t":23.45,"v":0.96},{"t":24.45,"v":0.88},{"t":25.45,"v":0.93},{"t":26.45,"v":0.8},{"t":27.45,"v":0.95},{"t":28.45,"v":0.9},{"t":29.45,"v":0.86},{"t":30.45,"v":0.92},{"t":31.45,"v":0.88},
{"t":32.45,"v":0.84},{"t":33.45,"v":0.93},{"t":34.45,"v":0.9},{"t":35.45,"v":0.82},{"t":36.45,"v":0.95},{"t":37.45,"v":0.91},{"t":38.45,"v":0.97},{"t":39.45,"v":0.89},{"t":40.45,"v":0.86},{"t":41.45,"v":0.94},
{"t":42.45,"v":0.9},{"t":43.45,"v":0.95},{"t":44.45,"v":0.88},{"t":45.45,"v":0.96},{"t":46.45,"v":0.92},{"t":47.45,"v":0.85},{"t":48.45,"v":0.94},{"t":49.45,"v":0.9},{"t":50.45,"v":0.97},{"t":51.45,"v":0.93},
{"t":52.45,"v":0.88},{"t":53.45,"v":0.95},{"t":54.45,"v":0.91},{"t":55.45,"v":0.96},{"t":56.45,"v":0.87},{"t":57.45,"v":0.93},{"t":58.45,"v":0.9},{"t":59.45,"v":0.95},{"t":60.45,"v":0.92},{"t":61.45,"v":0.86},
{"t":62.45,"v":0.94},{"t":63.45,"v":0.9},{"t":64.45,"v":0.96},{"t":65.45,"v":0.88},{"t":66.45,"v":0.93},{"t":67.45,"v":0.97},{"t":68.45,"v":0.91},{"t":69.45,"v":0.86},{"t":70.45,"v":0.95},{"t":71.45,"v":0.89},
{"t":73.45,"v":0.94},{"t":74.45,"v":0.9},{"t":75.45,"v":0.96},{"t":76.45,"v":0.88},{"t":77.45,"v":0.92},{"t":78.45,"v":0.97},{"t":79.45,"v":0.9},{"t":80.45,"v":0.86},{"t":81.45,"v":0.95},{"t":82.45,"v":0.93},
{"t":83.45,"v":0.89},{"t":84.45,"v":0.96},{"t":85.45,"v":0.92},{"t":86.45,"v":0.87},{"t":87.45,"v":0.95},{"t":88.45,"v":0.9},{"t":89.45,"v":0.97},{"t":90.45,"v":0.91},{"t":91.45,"v":0.85},{"t":92.45,"v":0.93},
{"t":94.45,"v":0.88},{"t":95.45,"v":0.92},{"t":96.45,"v":0.8},{"t":97.45,"v":0.95},{"t":98.45,"v":0.9},{"t":99.45,"v":0.86},{"t":100.45,"v":0.94},{"t":101.45,"v":0.91},
{"t":103.45,"v":0.95},{"t":104.45,"v":0.89},{"t":105.45,"v":0.96},{"t":106.45,"v":0.92},{"t":107.45,"v":0.87},{"t":108.45,"v":0.94},{"t":109.45,"v":0.9},{"t":110.45,"v":0.97},{"t":111.45,"v":0.91},{"t":112.45,"v":0.86},
{"t":114.45,"v":0.94},{"t":115.45,"v":0.9},{"t":116.45,"v":0.96},{"t":117.45,"v":0.88},{"t":118.45,"v":0.93},{"t":119.45,"v":0.97},{"t":120.45,"v":0.91},{"t":121.45,"v":0.86},{"t":122.45,"v":0.95},{"t":123.45,"v":0.92},
{"t":124.45,"v":0.89},{"t":125.45,"v":0.96},{"t":126.45,"v":0.93},{"t":127.45,"v":0.87},{"t":128.45,"v":0.95},{"t":129.45,"v":0.9},{"t":130.45,"v":0.97},{"t":131.45,"v":0.92},{"t":132.45,"v":0.85},{"t":133.45,"v":0.94},
{"t":134.45,"v":0.91},{"t":135.45,"v":0.96},{"t":136.45,"v":0.88},{"t":137.45,"v":0.93},{"t":138.45,"v":0.82},{"t":139.45,"v":0.95},{"t":140.45,"v":0.9},{"t":141.45,"v":0.86},{"t":142.45,"v":0.92},{"t":143.45,"v":0.88},
{"t":144.45,"v":0.94},{"t":145.45,"v":0.93},{"t":146.45,"v":0.9},{"t":147.45,"v":0.87},{"t":148.45,"v":0.95},{"t":149.45,"v":0.91},{"t":150.45,"v":0.97},{"t":151.45,"v":0.89},{"t":152.45,"v":0.86},{"t":153.45,"v":0.94},
{"t":154.45,"v":0.9},{"t":155.45,"v":0.95},{"t":156.45,"v":0.88},{"t":157.45,"v":0.96},{"t":158.45,"v":0.92},{"t":159.45,"v":0.85},{"t":160.45,"v":0.94},{"t":161.45,"v":0.9},{"t":162.45,"v":0.97},{"t":163.45,"v":0.93},
{"t":164.45,"v":0.88},{"t":165.45,"v":0.95},{"t":166.45,"v":0.91},{"t":167.45,"v":0.96},{"t":168.45,"v":0.87},{"t":169.45,"v":0.93},{"t":170.45,"v":0.9},{"t":171.45,"v":0.95},{"t":172.45,"v":0.92},{"t":173.45,"v":0.86},
{"t":174.45,"v":0.94},{"t":175.45,"v":0.9},{"t":176.45,"v":0.96},{"t":177.45,"v":0.88},{"t":178.45,"v":0.93},{"t":179.45,"v":0.97},{"t":180.45,"v":0.91},{"t":181.45,"v":0.86},{"t":182.45,"v":0.95},{"t":183.45,"v":0.89},
{"t":184.45,"v":0.94},{"t":185.45,"v":0.9},{"t":186.45,"v":0.84},{"t":187.45,"v":0.88},{"t":188.45,"v":0.92},{"t":189.45,"v":0.97},{"t":190.45,"v":0.9},{"t":191.45,"v":0.86},{"t":192.45,"v":0.95},{"t":193.45,"v":0.93},
{"t":194.45,"v":0.89},{"t":195.45,"v":0.96},{"t":196.45,"v":0.92},{"t":197.45,"v":0.87},{"t":198.45,"v":0.95},{"t":199.45,"v":0.9},{"t":200.45,"v":0.97},{"t":201.45,"v":0.91},{"t":202.45,"v":0.85},{"t":203.45,"v":0.93},
{"t":204.45,"v":0.95},{"t":205.45,"v":0.89},{"t":206.45,"v":0.96},{"t":207.45,"v":0.92},{"t":208.45,"v":0.87},{"t":209.45,"v":0.94},{"t":210.45,"v":0.9},{"t":211.45,"v":0.97},{"t":212.45,"v":0.91},{"t":213.45,"v":0.86},
{"t":214.45,"v":0.94},{"t":215.45,"v":0.9},{"t":216.45,"v":0.96},{"t":217.45,"v":0.88},{"t":218.45,"v":0.93},{"t":219.45,"v":0.97},{"t":220.45,"v":0.91},{"t":221.45,"v":0.86},{"t":222.45,"v":0.95},{"t":223.45,"v":0.92},
{"t":224.45,"v":0.89},{"t":225.45,"v":0.96},{"t":226.45,"v":0.93},{"t":227.45,"v":0.87},{"t":228.45,"v":0.95},{"t":229.45,"v":0.9},{"t":230.45,"v":0.97},{"t":231.45,"v":0.92},{"t":232.45,"v":0.85},{"t":233.45,"v":0.94},
{"t":234.45,"v":0.91},{"t":235.45,"v":0.96},{"t":236.45,"v":0.88},{"t":237.45,"v":0.93},{"t":238.45,"v":0.9},{"t":239.45,"v":0.95},{"t":240.45,"v":0.9},{"t":241.45,"v":0.86},{"t":242.45,"v":0.92},{"t":243.45,"v":0.88},
{"t":244.45,"v":0.94},{"t":245.45,"v":0.93},{"t":246.45,"v":0.9},{"t":247.45,"v":0.87},{"t":248.45,"v":0.95},{"t":249.45,"v":0.91},{"t":250.45,"v":0.97},{"t":251.45,"v":0.89},{"t":252.45,"v":0.86},{"t":253.45,"v":0.94},
{"t":254.45,"v":0.9},{"t":255.45,"v":0.95},{"t":256.45,"v":0.88},{"t":257.45,"v":0.96},{"t":258.45,"v":0.92},{"t":259.45,"v":0.85},{"t":260.45,"v":0.94},{"t":261.45,"v":0.9},{"t":262.45,"v":0.97},{"t":263.45,"v":0.93},
{"t":264.45,"v":0.88},{"t":265.45,"v":0.95},{"t":266.45,"v":0.91},{"t":267.45,"v":0.96},{"t":268.45,"v":0.87},{"t":269.45,"v":0.93},{"t":270.45,"v":0.9},{"t":271.45,"v":0.95},{"t":272.45,"v":0.92},{"t":273.45,"v":0.86},
{"t":274.45,"v":0.94},{"t":275.45,"v":0.9},{"t":278.45,"v":0.93},
{"t":280.45,"v":0.91},{"t":281.45,"v":0.96},{"t":282.45,"v":0.88},{"t":283.45,"v":0.93},{"t":284.45,"v":0.97},{"t":285.45,"v":0.9},{"t":286.45,"v":0.86},{"t":287.45,"v":0.95},{"t":288.45,"v":0.89},{"t":289.45,"v":0.94},
{"t":290.45,"v":0.92},{"t":291.45,"v":0.96},{"t":292.45,"v":0.88},{"t":293.45,"v":0.93},{"t":294.45,"v":0.9},{"t":295.45,"v":0.97},{"t":296.45,"v":0.91},{"t":297.45,"v":0.87},{"t":298.45,"v":0.95},{"t":299.45,"v":0.93},
{"t":1.75,"v":0.88},{"t":2.75,"v":0.85},{"t":3.75,"v":0.91},{"t":4.75,"v":0.87},{"t":5.75,"v":0.84},{"t":6.75,"v":0.9},{"t":7.75,"v":0.86},{"t":8.75,"v":0.92},{"t":9.75,"v":0.88},{"t":10.75,"v":0.85},
{"t":11.75,"v":0.9},{"t":12.75,"v":0.87},{"t":13.75,"v":0.84},{"t":14.75,"v":0.91},{"t":15.75,"v":0.86},{"t":16.75,"v":0.89},
{"t":18.75,"v":0.87},{"t":19.75,"v":0.84},{"t":20.75,"v":0.9},{"t":21.75,"v":0.86},{"t":22.75,"v":0.92},{"t":23.75,"v":0.85},{"t":24.75,"v":0.88},
{"t":26.75,"v":0.83},{"t":27.75,"v":0.9},{"t":28.75,"v":0.86},{"t":29.75,"v":0.8},{"t":30.75,"v":0.87},{"t":31.75,"v":0.84},
{"t":33.75,"v":0.82},{"t":34.75,"v":0.88},{"t":35.75,"v":0.85},{"t":36.75,"v":0.9},{"t":37.75,"v":0.86},{"t":38.75,"v":0.84},{"t":39.75,"v":0.91},{"t":40.75,"v":0.87},
{"t":43.75,"v":0.85},{"t":44.75,"v":0.89},{"t":45.75,"v":0.86},{"t":46.75,"v":0.83},{"t":47.75,"v":0.9},{"t":48.75,"v":0.87},
{"t":50.75,"v":0.88},{"t":51.75,"v":0.85},{"t":52.75,"v":0.91},{"t":53.75,"v":0.86},
{"t":55.75,"v":0.84},{"t":56.75,"v":0.9},{"t":57.75,"v":0.87},{"t":58.75,"v":0.85},{"t":59.75,"v":0.92},{"t":60.75,"v":0.86},{"t":61.75,"v":0.88},
{"t":63.75,"v":0.85},{"t":64.75,"v":0.9},{"t":65.75,"v":0.86},{"t":66.75,"v":0.84},{"t":67.75,"v":0.91},{"t":68.75,"v":0.87},{"t":69.75,"v":0.85},{"t":70.75,"v":0.89},{"t":71.75,"v":0.86},{"t":72.75,"v":0.88},{"t":73.75,"v":0.84},
{"t":75.75,"v":0.9},{"t":76.75,"v":0.86},{"t":77.75,"v":0.88},{"t":78.75,"v":0.85},{"t":79.75,"v":0.91},{"t":80.75,"v":0.87},{"t":81.75,"v":0.84},{"t":82.75,"v":0.9},{"t":83.75,"v":0.86},{"t":84.75,"v":0.88},{"t":85.75,"v":0.85},{"t":86.75,"v":0.92},{"t":87.75,"v":0.87},
{"t":88.75,"v":0.84},{"t":89.75,"v":0.9},{"t":90.75,"v":0.86},{"t":91.75,"v":0.88},{"t":92.75,"v":0.85},{"t":93.75,"v":0.87},{"t":94.75,"v":0.82},{"t":95.75,"v":0.86},{"t":96.75,"v":0.9},{"t":97.75,"v":0.84},{"t":98.75,"v":0.88},{"t":99.75,"v":0.86},{"t":100.75,"v":0.8},{"t":101.75,"v":0.87},
{"t":103.75,"v":0.85},{"t":104.75,"v":0.9},{"t":105.75,"v":0.86},{"t":106.75,"v":0.88},{"t":107.75,"v":0.84},{"t":108.75,"v":0.91},{"t":109.75,"v":0.87},{"t":110.75,"v":0.85},{"t":111.75,"v":0.89},{"t":112.75,"v":0.86},{"t":113.75,"v":0.88},
{"t":114.75,"v":0.84},{"t":115.75,"v":0.9},{"t":116.75,"v":0.87},{"t":117.75,"v":0.85},{"t":118.75,"v":0.92},{"t":119.75,"v":0.86},{"t":120.75,"v":0.88},{"t":121.75,"v":0.85},{"t":122.75,"v":0.9},{"t":123.75,"v":0.86},
{"t":125.75,"v":0.84},{"t":126.75,"v":0.91},{"t":127.75,"v":0.87},{"t":128.75,"v":0.85},{"t":129.75,"v":0.89},{"t":130.75,"v":0.86},{"t":131.75,"v":0.88},{"t":132.75,"v":0.84},{"t":133.75,"v":0.9},{"t":134.75,"v":0.86},
{"t":136.75,"v":0.88},{"t":137.75,"v":0.85},{"t":138.75,"v":0.91},{"t":139.75,"v":0.87},{"t":140.75,"v":0.84},{"t":141.75,"v":0.9},{"t":142.75,"v":0.86},{"t":143.75,"v":0.88},{"t":144.75,"v":0.85},{"t":145.75,"v":0.92},
{"t":146.75,"v":0.87},{"t":147.75,"v":0.84},{"t":148.75,"v":0.9},{"t":149.75,"v":0.86},{"t":150.75,"v":0.88},{"t":151.75,"v":0.85},{"t":152.75,"v":0.87},{"t":153.75,"v":0.83},{"t":154.75,"v":0.86},{"t":155.75,"v":0.9},
{"t":156.75,"v":0.84},{"t":157.75,"v":0.88},{"t":158.75,"v":0.86},{"t":159.75,"v":0.9},{"t":160.75,"v":0.85},{"t":161.75,"v":0.88},{"t":162.75,"v":0.86},{"t":163.75,"v":0.84},
{"t":166.75,"v":0.9},{"t":167.75,"v":0.86},{"t":168.75,"v":0.88},{"t":169.75,"v":0.85},{"t":170.75,"v":0.91},{"t":171.75,"v":0.87},
{"t":173.75,"v":0.84},{"t":174.75,"v":0.9},{"t":175.75,"v":0.86},{"t":176.75,"v":0.88},{"t":177.75,"v":0.85},{"t":178.75,"v":0.92},{"t":179.75,"v":0.87},{"t":180.75,"v":0.84},{"t":181.75,"v":0.9},{"t":182.75,"v":0.86},{"t":183.75,"v":0.88},{"t":184.75,"v":0.85},{"t":185.75,"v":0.87},
{"t":187.75,"v":0.86},
{"t":189.75,"v":0.88},{"t":190.75,"v":0.84},{"t":191.75,"v":0.9},{"t":192.75,"v":0.86},{"t":193.75,"v":0.88},{"t":194.75,"v":0.85},
{"t":196.75,"v":0.87},{"t":197.75,"v":0.84},{"t":198.75,"v":0.9},{"t":199.75,"v":0.86},{"t":200.75,"v":0.88},{"t":201.75,"v":0.85},{"t":202.75,"v":0.91},{"t":203.75,"v":0.87},{"t":204.75,"v":0.84},{"t":205.75,"v":0.9},
{"t":206.75,"v":0.86},{"t":207.75,"v":0.88},{"t":208.75,"v":0.85},{"t":209.75,"v":0.92},{"t":210.75,"v":0.87},{"t":211.75,"v":0.84},{"t":212.75,"v":0.9},{"t":213.75,"v":0.86},{"t":214.75,"v":0.88},{"t":215.75,"v":0.85},
{"t":216.75,"v":0.87},{"t":217.75,"v":0.83},{"t":218.75,"v":0.86},{"t":219.75,"v":0.9},{"t":220.75,"v":0.84},{"t":221.75,"v":0.88},{"t":222.75,"v":0.86},{"t":223.75,"v":0.85},
{"t":225.75,"v":0.9},{"t":226.75,"v":0.86},{"t":227.75,"v":0.88},
{"t":229.75,"v":0.85},{"t":230.75,"v":0.91},
{"t":233.75,"v":0.87},{"t":234.75,"v":0.84},{"t":235.75,"v":0.9},{"t":236.75,"v":0.86},
{"t":238.75,"v":0.88},{"t":239.75,"v":0.85},
{"t":241.75,"v":0.92},{"t":242.75,"v":0.87},{"t":243.75,"v":0.84},{"t":244.75,"v":0.9},{"t":245.75,"v":0.86},{"t":246.75,"v":0.88},{"t":247.75,"v":0.85},{"t":248.75,"v":0.87},{"t":249.75,"v":0.83},
{"t":251.75,"v":0.86},{"t":252.75,"v":0.9},{"t":253.75,"v":0.84},{"t":254.75,"v":0.88},{"t":255.75,"v":0.86},{"t":256.75,"v":0.85},{"t":257.75,"v":0.9},
{"t":259.75,"v":0.86},{"t":260.75,"v":0.88},{"t":261.75,"v":0.85},{"t":262.75,"v":0.91},
{"t":264.75,"v":0.87},{"t":265.75,"v":0.84},{"t":266.75,"v":0.9},{"t":267.75,"v":0.86},{"t":268.75,"v":0.88},{"t":269.75,"v":0.85},{"t":270.75,"v":0.92},{"t":271.75,"v":0.87},{"t":272.75,"v":0.84},{"t":273.75,"v":0.9},{"t":274.75,"v":0.86},{"t":275.75,"v":0.88},
{"t":278.75,"v":0.85},
{"t":280.75,"v":0.87},{"t":281.75,"v":0.83},{"t":282.75,"v":0.86},{"t":283.75,"v":0.9},{"t":284.75,"v":0.84},{"t":285.75,"v":0.88},{"t":286.75,"v":0.86},
{"t":288.75,"v":0.85},{"t":289.75,"v":0.9},{"t":290.75,"v":0.86},{"t":291.75,"v":0.88},{"t":292.75,"v":0.84},{"t":293.75,"v":0.91},{"t":294.75,"v":0.87},{"t":295.75,"v":0.85},{"t":296.75,"v":0.89},{"t":297.75,"v":0.86},{"t":298.75,"v":0.88},{"t":299.75,"v":0.9}
],
"s": [
{"t":0,"v":1.28},{"t":0.3,"v":1.77},{"t":0.6,"v":1.3},{"t":0.9,"v":2.4},{"t":1.3,"v":1.72},{"t":1.7,"v":1.1},{"t":2,"v":1.65},{"t":2.2,"v":2.65},{"t":2.6,"v":2.75},{"t":3,"v":1.55},{"t":3.3,"v":1.35},{"t":3.6,"v":1.85},{"t":4,"v":1.55},{"t":4.3,"v":1.1},{"t":4.6,"v":0.9},{"t":5,"v":1.4},{"t":5.3,"v":0.88},{"t":5.6,"v":0.85},{"t":6,"v":1.85},{"t":6.4,"v":1.55},{"t":6.8,"v":1.9},{"t":7.2,"v":1.0},{"t":7.6,"v":1.65},{"t":8,"v":2.0},{"t":8.4,"v":2.45},{"t":8.8,"v":2.1},{"t":9.2,"v":2.55},{"t":9.6,"v":1.5},{"t":10.2,"v":2.75},{"t":10.7,"v":2.2},{"t":11.2,"v":1.1},{"t":11.7,"v":2.5},{"t":12.2,"v":2.7},{"t":12.7,"v":1.8},{"t":13.2,"v":2.65},{"t":13.7,"v":2.0},{"t":14.2,"v":2.75},{"t":14.7,"v":1.9},{"t":15.2,"v":2.7},{"t":15.8,"v":2.6},{"t":16.3,"v":2.2},{"t":16.8,"v":1.5},{"t":17.3,"v":1.8},{"t":17.8,"v":1.4},{"t":18.3,"v":1.7},{"t":18.8,"v":1.15},{"t":19.3,"v":1.65},{"t":19.8,"v":1.05},{"t":20.3,"v":1.8},{"t":20.8,"v":1.5},{"t":21.3,"v":1.85},{"t":21.8,"v":1.3},{"t":22.3,"v":1.6},{"t":22.7,"v":0.9},{"t":23.2,"v":2.75},{"t":23.6,"v":2.15},{"t":24,"v":2.7},{"t":24.4,"v":1.25},{"t":24.8,"v":2.75},{"t":25.2,"v":1.0},{"t":25.6,"v":2.5},{"t":26,"v":1.5},{"t":26.4,"v":2.4},{"t":26.8,"v":1.3},{"t":27.2,"v":2.6},{"t":27.6,"v":1.9},{"t":28,"v":2.2},{"t":28.5,"v":1.1},{"t":29,"v":2.7},{"t":29.5,"v":1.6},{"t":30,"v":2.5},{"t":30.5,"v":1.25},{"t":31,"v":2.3},{"t":31.5,"v":1.7},{"t":32,"v":2.65},{"t":32.5,"v":1.4},{"t":33,"v":2.5},{"t":33.5,"v":1.2},{"t":34,"v":2.7},{"t":34.5,"v":1.8},{"t":35,"v":2.4},{"t":35.5,"v":1.1},{"t":36,"v":2.2},{"t":36.6,"v":0.75},{"t":37,"v":2.0},{"t":37.5,"v":1.5},{"t":38,"v":2.65},{"t":38.5,"v":1.3},{"t":39,"v":2.4},{"t":39.5,"v":1.7},{"t":40,"v":2.6},{"t":40.5,"v":1.2},{"t":41,"v":2.3},{"t":41.5,"v":1.6},{"t":42,"v":2.55},{"t":42.5,"v":0.9},{"t":43,"v":2.2},{"t":43.5,"v":1.45},{"t":44,"v":2.6},{"t":44.5,"v":1.1},{"t":45,"v":2.4},{"t":45.5,"v":1.8},{"t":46,"v":2.65},{"t":46.5,"v":1.3},{"t":47,"v":2.2},{"t":47.5,"v":1.0},{"t":48,"v":1.9},{"t":48.5,"v":1.5},{"t":49,"v":2.1},{"t":49.5,"v":1.3},{"t":50,"v":1.6},{"t":50.5,"v":1.0},{"t":51,"v":1.75},{"t":51.5,"v":1.2},{"t":52,"v":1.85},{"t":52.5,"v":1.05},{"t":53,"v":1.7},{"t":53.5,"v":1.3},{"t":54,"v":1.8},{"t":54.5,"v":1.0},{"t":55,"v":1.5},{"t":55.5,"v":1.85},{"t":56,"v":1.1},{"t":56.5,"v":1.7},{"t":57,"v":1.25},{"t":57.5,"v":1.8},{"t":58,"v":1.05},{"t":58.5,"v":2.7},{"t":59,"v":1.6},{"t":59.5,"v":2.4},{"t":60,"v":1.3},{"t":60.5,"v":2.6},{"t":61,"v":1.5},{"t":61.5,"v":2.2},{"t":62,"v":1.1},{"t":62.5,"v":1.9},{"t":63,"v":1.3},{"t":63.5,"v":2.1},{"t":64,"v":1.0},{"t":64.5,"v":2.5},{"t":65,"v":1.6},{"t":65.5,"v":2.7},{"t":66,"v":1.2},{"t":66.5,"v":2.3},{"t":67,"v":1.5},{"t":67.5,"v":2.0},{"t":68,"v":1.1},{"t":68.5,"v":2.4},{"t":69,"v":1.4},{"t":69.5,"v":2.1},{"t":70,"v":1.0},{"t":70.5,"v":2.2},{"t":71,"v":1.5},{"t":71.5,"v":2.65},{"t":72,"v":1.3},{"t":72.5,"v":2.0},{"t":73,"v":1.1},{"t":73.5,"v":2.7},{"t":74,"v":1.6},{"t":74.5,"v":2.5},{"t":75,"v":1.2},{"t":75.5,"v":2.6},{"t":76,"v":1.4},{"t":76.5,"v":2.2},{"t":77,"v":1.0},{"t":77.5,"v":2.4},{"t":78,"v":1.3},{"t":78.5,"v":1.9},{"t":79,"v":1.1},{"t":79.5,"v":1.7},{"t":80,"v":1.3},{"t":80.5,"v":1.85},{"t":81,"v":1.2},{"t":81.5,"v":2.65},{"t":82,"v":1.5},{"t":82.5,"v":1.9},{"t":83,"v":1.0},{"t":83.5,"v":1.8},{"t":84,"v":1.3},{"t":84.5,"v":1.75},{"t":85,"v":1.1},{"t":85.5,"v":1.85},{"t":86,"v":1.4},{"t":86.5,"v":1.7},{"t":87,"v":1.1},{"t":87.5,"v":1.9},{"t":88,"v":1.3},{"t":88.5,"v":1.65},{"t":89,"v":1.05},{"t":89.5,"v":1.8},{"t":90,"v":1.35},{"t":90.5,"v":1.75},{"t":91,"v":1.2},{"t":91.5,"v":1.85},{"t":92,"v":1.5},{"t":92.5,"v":1.9},{"t":93,"v":1.25},{"t":93.5,"v":1.85},{"t":94,"v":1.4},{"t":94.5,"v":1.9},{"t":95,"v":1.6},{"t":95.5,"v":1.9},{"t":96,"v":1.4},{"t":96.5,"v":1.3},{"t":97,"v":0.95},{"t":98,"v":0.97},{"t":99,"v":0.95},{"t":100,"v":0.97},{"t":101,"v":0.93},{"t":102,"v":0.96},{"t":102.8,"v":0.48},{"t":103.4,"v":0.95},{"t":104,"v":0.9},{"t":105,"v":0.96},{"t":106,"v":0.94},{"t":107,"v":0.88},{"t":108,"v":0.96},{"t":109,"v":0.92},{"t":110,"v":0.97},{"t":111,"v":0.95},{"t":112,"v":0.9},{"t":112.5,"v":0.96},{"t":113,"v":0.43},{"t":113.6,"v":0.95},{"t":114.2,"v":1.85},{"t":114.6,"v":1.3},{"t":115,"v":1.75},{"t":115.5,"v":1.1},{"t":116,"v":1.3},{"t":116.5,"v":1.65},{"t":117,"v":1.0},{"t":117.5,"v":1.7},{"t":118,"v":1.65},{"t":118.5,"v":1.45},{"t":119,"v":1.8},{"t":119.5,"v":1.2},{"t":120,"v":1.6},{"t":120.5,"v":1.3},{"t":121,"v":0.45},{"t":121.5,"v":1.9},{"t":122,"v":1.2},{"t":122.5,"v":1.6},{"t":123,"v":1.05},{"t":123.5,"v":1.5},{"t":124,"v":1.3},{"t":124.5,"v":1.0},{"t":125,"v":1.4},{"t":125.5,"v":0.85},{"t":126.3,"v":1.9},{"t":126.8,"v":1.95},{"t":127.2,"v":1.4},{"t":127.6,"v":1.7},{"t":128,"v":0.95},{"t":128.5,"v":1.85},{"t":129,"v":1.25},{"t":129.5,"v":1.6},{"t":130.2,"v":0.9},{"t":130.7,"v":1.6},{"t":131.2,"v":1.75},{"t":131.7,"v":1.0},{"t":132.2,"v":1.4},{"t":132.8,"v":1.6},{"t":133.4,"v":1.85},{"t":134,"v":0.95},{"t":134.6,"v":1.1},{"t":135.2,"v":1.85},{"t":135.7,"v":1.2},{"t":136.3,"v":1.25},{"t":137,"v":1.6},{"t":137.6,"v":1.75},{"t":138.2,"v":1.05},{"t":138.8,"v":1.4},{"t":139.3,"v":1.25},{"t":139.8,"v":1.9},{"t":140.3,"v":1.85},{"t":140.8,"v":1.25},{"t":141.3,"v":1.9},{"t":141.8,"v":1.15},{"t":142.4,"v":1.8},{"t":142.9,"v":1.55},{"t":143.5,"v":1.25},{"t":144.1,"v":1.85},{"t":144.6,"v":1.5},{"t":145.2,"v":1.75},{"t":145.7,"v":0.95},{"t":146.4,"v":1.6},{"t":147,"v":1.2},{"t":147.6,"v":1.8},{"t":148.2,"v":1.4},{"t":148.8,"v":1.7},{"t":149.5,"v":0.65},{"t":150,"v":1.8},{"t":150.5,"v":1.05},{"t":151.2,"v":1.85},{"t":151.8,"v":1.3},{"t":152.4,"v":1.6},{"t":153.3,"v":0.3},{"t":153.8,"v":1.6},{"t":154.3,"v":1.9},{"t":154.8,"v":0.75},{"t":155.5,"v":1.9},{"t":156,"v":1.45},{"t":156.8,"v":1.75},{"t":157.3,"v":1.0},{"t":158,"v":1.5},{"t":158.5,"v":0.98},{"t":159.5,"v":0.97},{"t":160.5,"v":0.98},{"t":161.5,"v":0.95},{"t":162.5,"v":0.97},{"t":163.5,"v":0.96},{"t":164,"v":0.7},{"t":164.3,"v":1.9},{"t":164.8,"v":1.3},{"t":165.3,"v":1.85},{"t":165.8,"v":0.6},{"t":166.3,"v":1.9},{"t":166.8,"v":1.4},{"t":167.3,"v":1.8},{"t":167.8,"v":1.1},{"t":168.3,"v":1.9},{"t":168.8,"v":1.5},{"t":169.2,"v":0.9},{"t":169.7,"v":1.85},{"t":170.2,"v":1.6},{"t":170.7,"v":1.9},{"t":171.2,"v":1.2},{"t":171.7,"v":1.85},{"t":172.2,"v":1.0},{"t":172.6,"v":0.45},{"t":173.1,"v":1.7},{"t":173.6,"v":1.9},{"t":174.1,"v":1.3},{"t":174.5,"v":1.75},{"t":175,"v":1.9},{"t":175.5,"v":1.2},{"t":176,"v":0.95},{"t":176.5,"v":1.85},{"t":177,"v":1.5},{"t":177.4,"v":0.6},{"t":177.9,"v":1.85},{"t":178.4,"v":1.9},{"t":178.9,"v":1.3},{"t":179.4,"v":1.8},{"t":179.9,"v":1.1},{"t":180.4,"v":1.9},{"t":180.9,"v":1.6},{"t":181.4,"v":1.85},{"t":181.9,"v":1.2},{"t":182.5,"v":0.9},{"t":183,"v":1.9},{"t":183.5,"v":1.7},{"t":184,"v":1.85},{"t":184.5,"v":1.25},{"t":185,"v":1.9},{"t":185.4,"v":1.3},{"t":185.9,"v":1.8},{"t":186.6,"v":0.45},{"t":187.1,"v":1.7},{"t":187.6,"v":1.9},{"t":188,"v":1.1},{"t":188.5,"v":0.95},{"t":188.9,"v":0.27},{"t":189.4,"v":1.6},{"t":189.9,"v":1.0},{"t":190.4,"v":1.85},{"t":190.9,"v":1.3},{"t":191.4,"v":1.75},{"t":191.9,"v":0.95},{"t":192.4,"v":1.5},{"t":192.9,"v":0.9},{"t":193.4,"v":1.6},{"t":193.9,"v":1.0},{"t":194.5,"v":0.75},{"t":195,"v":1.2},{"t":195.5,"v":1.8},{"t":196,"v":1.6},{"t":196.5,"v":1.9},{"t":197,"v":1.3},{"t":197.5,"v":1.85},{"t":198,"v":1.1},{"t":198.5,"v":1.9},{"t":199,"v":1.5},{"t":199.5,"v":1.9},{"t":200,"v":1.0},{"t":200.5,"v":1.75},{"t":201,"v":0.95},{"t":201.5,"v":1.85},{"t":202,"v":1.05},{"t":202.5,"v":1.9},{"t":203,"v":1.4},{"t":203.5,"v":1.8},{"t":204,"v":1.1},{"t":204.5,"v":1.9},{"t":205,"v":1.3},{"t":205.5,"v":1.85},{"t":206,"v":1.6},{"t":206.5,"v":1.9},{"t":207,"v":1.2},{"t":207.5,"v":1.8},{"t":208,"v":1.0},{"t":208.5,"v":1.75},{"t":209,"v":1.4},{"t":209.5,"v":1.9},{"t":210,"v":1.2},{"t":210.5,"v":1.85},{"t":211.4,"v":0.5},{"t":212,"v":1.7},{"t":212.5,"v":1.9},{"t":213,"v":1.2},{"t":213.5,"v":1.85},{"t":214,"v":1.05},{"t":214.5,"v":1.9},{"t":215,"v":1.5},{"t":215.5,"v":1.8},{"t":216,"v":1.25},{"t":216.5,"v":1.9},{"t":217,"v":1.6},{"t":217.5,"v":1.85},{"t":218,"v":1.3},{"t":218.5,"v":1.9},{"t":219,"v":1.7},{"t":219.5,"v":1.9},{"t":220,"v":1.4},{"t":220.5,"v":1.85},{"t":221,"v":1.2},{"t":221.5,"v":1.8},{"t":222.1,"v":0.02},{"t":222.6,"v":1.6},{"t":223,"v":1.85},{"t":223.4,"v":0.75},{"t":224,"v":1.05},{"t":224.5,"v":1.8},{"t":225,"v":1.3},{"t":225.5,"v":1.9},{"t":226,"v":1.1},{"t":226.5,"v":1.85},{"t":227,"v":0.95},{"t":227.5,"v":1.75},{"t":228,"v":1.4},{"t":228.5,"v":1.9},{"t":229,"v":1.1},{"t":229.5,"v":1.85},{"t":230,"v":1.5},{"t":230.5,"v":1.9},{"t":231,"v":1.2},{"t":231.5,"v":0.95},{"t":232,"v":1.75},{"t":232.7,"v":0.58},{"t":233.2,"v":1.7},{"t":233.7,"v":1.9},{"t":234.2,"v":1.1},{"t":234.7,"v":1.85},{"t":235.2,"v":1.3},{"t":235.7,"v":1.9},{"t":236.2,"v":1.6},{"t":236.7,"v":1.8},{"t":237.2,"v":0.95},{"t":237.7,"v":1.85},{"t":238.2,"v":1.25},{"t":238.7,"v":1.9},{"t":239.2,"v":1.5},{"t":239.7,"v":1.85},{"t":240.2,"v":1.1},{"t":240.7,"v":1.9},{"t":241.2,"v":1.6},{"t":241.7,"v":1.85},{"t":242.2,"v":1.3},{"t":242.7,"v":1.9},{"t":243.2,"v":1.0},{"t":243.7,"v":1.8},{"t":244.2,"v":1.4},{"t":244.7,"v":1.9},{"t":245.2,"v":1.15},{"t":245.7,"v":1.85},{"t":246.2,"v":1.6},{"t":246.7,"v":1.9},{"t":247.2,"v":1.05},{"t":247.7,"v":1.8},{"t":248.2,"v":1.3},{"t":248.7,"v":1.9},{"t":249.2,"v":1.0},{"t":249.7,"v":1.85},{"t":250.2,"v":1.5},{"t":250.7,"v":1.9},{"t":251.2,"v":1.2},{"t":251.7,"v":1.85},{"t":252.2,"v":1.6},{"t":252.7,"v":1.9},{"t":253.2,"v":1.1},{"t":253.7,"v":1.8},{"t":254.5,"v":0.95},{"t":255,"v":1.8},{"t":255.5,"v":1.3},{"t":256,"v":1.9},{"t":256.5,"v":1.5},{"t":257,"v":1.85},{"t":257.5,"v":1.2},{"t":258,"v":1.9},{"t":258.6,"v":0.6},{"t":259.2,"v":1.8},{"t":259.8,"v":1.4},{"t":260.5,"v":0.45},{"t":261,"v":1.7},{"t":261.5,"v":1.9},{"t":262,"v":1.2},{"t":262.5,"v":1.85},{"t":263,"v":1.4},{"t":263.5,"v":1.9},{"t":264,"v":1.1},{"t":264.5,"v":1.8},{"t":265,"v":1.5},{"t":265.5,"v":1.9},{"t":266,"v":1.25},{"t":266.5,"v":1.85},{"t":267,"v":1.6},{"t":267.5,"v":1.9},{"t":268,"v":1.3},{"t":268.5,"v":1.8},{"t":269,"v":1.05},{"t":269.5,"v":1.7},{"t":270,"v":1.4},{"t":270.5,"v":1.9},{"t":271,"v":1.2},{"t":271.5,"v":1.85},{"t":272,"v":1.5},{"t":272.5,"v":1.9},{"t":273,"v":1.1},{"t":273.5,"v":1.8},{"t":274,"v":1.6},{"t":274.5,"v":1.9},{"t":275,"v":1.3},{"t":275.5,"v":1.85},{"t":276,"v":1.5},{"t":276.8,"v":1.05},{"t":277.3,"v":1.8},{"t":277.8,"v":1.4},{"t":278.3,"v":1.9},{"t":278.8,"v":1.2},{"t":279.3,"v":1.85},{"t":279.8,"v":1.6},{"t":280.3,"v":1.3},{"t":280.8,"v":1.0},{"t":281.5,"v":0.98},{"t":282,"v":0.9},{"t":282.5,"v":0.95},{"t":283.2,"v":0.97},{"t":283.7,"v":1.85},{"t":284.2,"v":1.3},{"t":284.7,"v":1.9},{"t":285.2,"v":1.5},{"t":285.7,"v":1.0},{"t":286.2,"v":1.85},{"t":286.7,"v":1.2},{"t":287.2,"v":1.9},{"t":287.7,"v":1.6},{"t":288.2,"v":1.85},{"t":288.7,"v":1.3},{"t":289.2,"v":1.9},{"t":289.7,"v":1.5},{"t":290.2,"v":1.85},{"t":290.7,"v":1.2},{"t":291.2,"v":1.9},{"t":291.7,"v":1.6},{"t":292.2,"v":1.85},{"t":292.7,"v":1.1},{"t":293.2,"v":1.9},{"t":293.7,"v":1.4},{"t":294.5,"v":0.9},{"t":295,"v":1.85},{"t":295.5,"v":1.3},{"t":296,"v":1.9},{"t":296.5,"v":0.9},{"t":297,"v":1.85},{"t":297.5,"v":1.5},{"t":298,"v":1.9},{"t":298.5,"v":1.4},{"t":299,"v":1.85},{"t":299.5,"v":1.3},{"t":300,"v":1.35},
{"t":23.25,"v":1.6},{"t":24.25,"v":2.3},{"t":25.25,"v":1.9},{"t":26.25,"v":2.6},{"t":27.25,"v":1.4},{"t":28.25,"v":2.2},{"t":29.25,"v":1.75},{"t":30.25,"v":2.5},{"t":31.25,"v":1.3},{"t":32.25,"v":2.0},{"t":33.25,"v":2.65},{"t":34.25,"v":1.5},{"t":35.25,"v":2.35},{"t":36.25,"v":1.85},{"t":37.25,"v":2.55},{"t":38.25,"v":1.2},{"t":39.25,"v":2.1},{"t":40.25,"v":1.7},{"t":41.25,"v":2.45},{"t":42.25,"v":1.35},{"t":43.25,"v":2.25},{"t":44.25,"v":1.95},{"t":45.25,"v":2.6},{"t":46.25,"v":1.55},{"t":47.25,"v":2.0},{"t":48.25,"v":1.45},{"t":49.25,"v":1.8},
{"t":50.25,"v":1.4},{"t":51.25,"v":1.65},{"t":52.25,"v":1.3},{"t":53.25,"v":1.5},{"t":54.25,"v":1.75},{"t":55.25,"v":1.2},{"t":56.25,"v":1.6},{"t":57.25,"v":1.45},
{"t":58.25,"v":2.1},{"t":59.25,"v":1.85},{"t":60.25,"v":2.35},{"t":61.25,"v":1.7},{"t":62.25,"v":1.4},{"t":63.25,"v":2.55},{"t":64.25,"v":1.9},{"t":65.25,"v":2.2},{"t":66.25,"v":1.6},{"t":67.25,"v":2.45},{"t":68.25,"v":1.8},{"t":69.25,"v":1.35},{"t":70.25,"v":2.05},{"t":71.25,"v":1.75},{"t":72.25,"v":2.3},{"t":73.25,"v":1.5},{"t":74.25,"v":2.6},{"t":75.25,"v":1.95},{"t":76.25,"v":1.7},{"t":77.25,"v":2.0},{"t":78.25,"v":1.55},
{"t":79.25,"v":1.5},{"t":80.25,"v":1.65},{"t":81.25,"v":1.4},{"t":82.25,"v":1.7},{"t":83.25,"v":1.55},{"t":84.25,"v":1.45},{"t":85.25,"v":1.6},{"t":86.25,"v":1.75},{"t":87.25,"v":1.5},{"t":88.25,"v":1.35},{"t":89.25,"v":1.6},{"t":90.25,"v":1.45},{"t":91.25,"v":1.7},{"t":92.25,"v":1.55},{"t":93.25,"v":1.65},{"t":94.25,"v":1.5},{"t":95.25,"v":1.75},
{"t":114.4,"v":1.5},{"t":115.25,"v":1.4},{"t":116.25,"v":1.6},{"t":117.25,"v":1.35},{"t":118.25,"v":1.55},{"t":119.25,"v":1.45},{"t":120.25,"v":1.7},{"t":121.25,"v":1.3},{"t":122.25,"v":1.5},{"t":123.25,"v":1.65},{"t":124.25,"v":1.4},{"t":125.25,"v":1.2},{"t":126.05,"v":1.55},{"t":127.4,"v":1.6},{"t":128.25,"v":1.45},{"t":129.25,"v":1.35},{"t":130.45,"v":1.7},{"t":131.45,"v":1.5},{"t":132.5,"v":1.4},{"t":133.1,"v":1.6},{"t":134.3,"v":1.3},{"t":135.45,"v":1.55},{"t":136.6,"v":1.45},{"t":137.3,"v":1.65},{"t":138.5,"v":1.5},{"t":139.05,"v":1.35},{"t":140.05,"v":1.6},{"t":140.55,"v":1.4},{"t":141.55,"v":1.7},{"t":142.1,"v":1.45},{"t":142.65,"v":1.55},{"t":143.2,"v":1.3},{"t":143.8,"v":1.5},{"t":144.35,"v":1.65},{"t":144.9,"v":1.4},{"t":145.45,"v":1.6},{"t":146.05,"v":1.45},{"t":146.7,"v":1.35},{"t":147.3,"v":1.55},{"t":147.9,"v":1.5},{"t":148.5,"v":1.7},{"t":150.25,"v":1.4},{"t":150.85,"v":1.3},{"t":151.5,"v":1.45},{"t":152.1,"v":1.55},{"t":155.15,"v":1.5},{"t":155.75,"v":1.6},{"t":156.4,"v":1.4},{"t":157.65,"v":1.3},
{"t":164.55,"v":1.6},{"t":165.05,"v":1.75},{"t":166.05,"v":1.5},{"t":166.55,"v":1.65},{"t":167.05,"v":1.8},{"t":167.55,"v":1.45},{"t":168.05,"v":1.7},{"t":168.55,"v":1.55},{"t":169.45,"v":1.85},{"t":169.95,"v":1.4},
{"t":170.45,"v":1.6},{"t":170.95,"v":1.7},{"t":171.45,"v":1.5},{"t":171.95,"v":1.8},{"t":172.85,"v":1.65},{"t":173.35,"v":1.45},{"t":173.85,"v":1.75},{"t":174.75,"v":1.55},{"t":175.25,"v":1.85},{"t":175.75,"v":1.6},
{"t":176.25,"v":1.5},{"t":176.75,"v":1.7},{"t":177.65,"v":1.4},{"t":178.15,"v":1.6},{"t":178.65,"v":1.35},{"t":179.15,"v":1.5},{"t":179.65,"v":1.65},{"t":180.15,"v":1.45},{"t":180.65,"v":1.3},{"t":181.15,"v":1.55},
{"t":181.65,"v":1.7},{"t":182.2,"v":1.6},{"t":182.75,"v":1.8},{"t":183.25,"v":1.5},{"t":183.75,"v":1.75},{"t":184.25,"v":1.65},{"t":184.75,"v":1.45},{"t":185.2,"v":1.8},{"t":185.65,"v":1.55},{"t":186.25,"v":1.7},
{"t":186.85,"v":1.6},{"t":187.35,"v":1.75},{"t":187.8,"v":1.5},{"t":189.15,"v":1.45},{"t":189.65,"v":1.65},{"t":190.15,"v":1.45},{"t":190.65,"v":1.7},{"t":191.15,"v":1.55},{"t":191.65,"v":1.8},{"t":192.15,"v":1.6},
{"t":192.65,"v":1.5},{"t":193.15,"v":1.75},{"t":193.65,"v":1.6},{"t":194.2,"v":1.7},{"t":194.75,"v":1.45},{"t":195.25,"v":1.8},{"t":195.75,"v":1.55},{"t":196.25,"v":1.65},{"t":196.75,"v":1.5},{"t":197.25,"v":1.4},
{"t":197.75,"v":1.6},{"t":198.25,"v":1.75},{"t":198.75,"v":1.5},{"t":199.25,"v":1.85},{"t":199.75,"v":1.65},{"t":200.25,"v":1.45},{"t":200.75,"v":1.7},{"t":201.25,"v":1.55},{"t":201.75,"v":1.8},{"t":202.25,"v":1.6},
{"t":202.75,"v":1.5},{"t":203.25,"v":1.75},{"t":203.75,"v":1.6},{"t":204.25,"v":1.7},{"t":204.75,"v":1.45},{"t":205.25,"v":1.8},{"t":205.75,"v":1.55},{"t":206.25,"v":1.65},{"t":206.75,"v":1.5},{"t":207.25,"v":1.4},
{"t":207.75,"v":1.6},{"t":208.25,"v":1.75},{"t":208.75,"v":1.5},{"t":209.25,"v":1.85},{"t":209.75,"v":1.65},{"t":210.25,"v":1.45},{"t":210.75,"v":1.7},{"t":211.7,"v":1.55},{"t":212.25,"v":1.8},{"t":212.75,"v":1.6},
{"t":213.25,"v":1.7},{"t":213.75,"v":1.5},{"t":214.25,"v":1.8},{"t":214.75,"v":1.6},{"t":215.25,"v":1.45},{"t":215.75,"v":1.75},{"t":216.25,"v":1.55},{"t":216.75,"v":1.85},{"t":217.25,"v":1.65},{"t":217.75,"v":1.5},
{"t":218.25,"v":1.6},{"t":218.75,"v":1.75},{"t":219.25,"v":1.5},{"t":219.75,"v":1.7},{"t":220.25,"v":1.45},{"t":220.75,"v":1.8},{"t":221.25,"v":1.55},{"t":221.75,"v":1.65},{"t":222.8,"v":1.4},{"t":224.25,"v":1.6},
{"t":224.75,"v":1.75},{"t":225.25,"v":1.5},{"t":225.75,"v":1.85},{"t":226.25,"v":1.65},{"t":226.75,"v":1.45},{"t":227.25,"v":1.7},{"t":227.75,"v":1.55},{"t":228.25,"v":1.8},{"t":228.75,"v":1.6},{"t":229.25,"v":1.5},
{"t":229.75,"v":1.7},{"t":230.25,"v":1.6},{"t":230.75,"v":1.5},{"t":231.25,"v":1.75},{"t":231.75,"v":1.65},{"t":232.3,"v":1.6},{"t":233.45,"v":1.5},{"t":233.95,"v":1.8},{"t":234.45,"v":1.6},{"t":234.95,"v":1.45},
{"t":235.45,"v":1.75},{"t":235.95,"v":1.55},{"t":236.45,"v":1.85},{"t":236.95,"v":1.65},{"t":237.45,"v":1.5},{"t":237.95,"v":1.6},{"t":238.45,"v":1.75},{"t":238.95,"v":1.5},{"t":239.45,"v":1.7},{"t":239.95,"v":1.45},
{"t":240.45,"v":1.8},{"t":240.95,"v":1.55},{"t":241.45,"v":1.65},{"t":241.95,"v":1.6},{"t":242.45,"v":1.75},{"t":242.95,"v":1.5},{"t":243.45,"v":1.7},{"t":243.95,"v":1.6},{"t":244.45,"v":1.8},{"t":244.95,"v":1.45},
{"t":245.45,"v":1.75},{"t":245.95,"v":1.55},{"t":246.45,"v":1.85},{"t":246.95,"v":1.65},{"t":247.45,"v":1.5},{"t":247.95,"v":1.6},{"t":248.45,"v":1.75},{"t":248.95,"v":1.5},{"t":249.45,"v":1.7},{"t":249.95,"v":1.45},
{"t":250.45,"v":1.8},{"t":250.95,"v":1.55},{"t":251.45,"v":1.65},{"t":251.95,"v":1.6},{"t":252.45,"v":1.75},{"t":252.95,"v":1.5},{"t":253.45,"v":1.7},{"t":254.05,"v":1.6},{"t":254.75,"v":1.5},{"t":255.25,"v":1.7},
{"t":255.75,"v":1.6},{"t":256.25,"v":1.8},{"t":256.75,"v":1.45},{"t":257.25,"v":1.75},{"t":257.75,"v":1.55},{"t":258.3,"v":1.65},{"t":258.9,"v":1.5},{"t":259.5,"v":1.7},{"t":260.1,"v":1.6},{"t":260.75,"v":1.5},
{"t":261.25,"v":1.6},{"t":261.75,"v":1.75},{"t":262.25,"v":1.5},{"t":262.75,"v":1.7},{"t":263.25,"v":1.45},{"t":263.75,"v":1.8},{"t":264.25,"v":1.55},{"t":264.75,"v":1.65},{"t":265.25,"v":1.6},{"t":265.75,"v":1.75},
{"t":266.25,"v":1.5},{"t":266.75,"v":1.7},{"t":267.25,"v":1.6},{"t":267.75,"v":1.8},{"t":268.25,"v":1.45},{"t":268.75,"v":1.75},{"t":269.25,"v":1.55},{"t":269.75,"v":1.85},{"t":270.25,"v":1.65},{"t":270.75,"v":1.5},
{"t":271.25,"v":1.6},{"t":271.75,"v":1.75},{"t":272.25,"v":1.5},{"t":272.75,"v":1.7},{"t":273.25,"v":1.45},{"t":273.75,"v":1.8},{"t":274.25,"v":1.55},{"t":274.75,"v":1.65},{"t":275.25,"v":1.6},{"t":275.75,"v":1.75},
{"t":276.4,"v":1.5},{"t":277.05,"v":1.7},{"t":277.55,"v":1.6},{"t":278.05,"v":1.8},{"t":278.55,"v":1.45},{"t":279.05,"v":1.75},{"t":279.55,"v":1.55},{"t":280.05,"v":1.65},
{"t":283.95,"v":1.6},{"t":284.45,"v":1.75},{"t":284.95,"v":1.5},{"t":285.45,"v":1.85},{"t":285.95,"v":1.65},{"t":286.45,"v":1.45},{"t":286.95,"v":1.7},{"t":287.45,"v":1.55},{"t":287.95,"v":1.8},{"t":288.45,"v":1.6},
{"t":288.95,"v":1.5},{"t":289.45,"v":1.75},{"t":289.95,"v":1.6},{"t":290.45,"v":1.7},{"t":290.95,"v":1.55},{"t":291.45,"v":1.65},{"t":291.95,"v":1.5},{"t":292.45,"v":1.8},{"t":292.95,"v":1.6},{"t":293.45,"v":1.7},
{"t":294.1,"v":1.5},{"t":294.75,"v":1.65},{"t":295.25,"v":1.6},{"t":295.75,"v":1.75},{"t":296.25,"v":1.5},{"t":296.75,"v":1.7},{"t":297.25,"v":1.6},{"t":297.75,"v":1.8},{"t":298.25,"v":1.55},{"t":298.75,"v":1.7},{"t":299.25,"v":1.6},{"t":299.75,"v":1.45}
]
},
"vconcat": [
{"width": 1163, "height": 168, "data": {"name": "h1"}, "mark": {"type": "line", "clip": true},
 "encoding": {
  "x": {"field": "t", "type": "quantitative", "scale": {"domain": [-15.3, 314.3], "nice": false, "zero": false}, "axis": {"values": [0,50,100,150,200,250,300], "title": null}},
  "y": {"field": "v", "type": "quantitative", "scale": {"domain": [-0.05, 1.006], "nice": false, "zero": false}, "axis": {"values": [0,0.2,0.4,0.6,0.8,1], "format": ".1f", "title": "Hydrogen Bond 1"}}}},
{"width": 1163, "height": 168, "data": {"name": "h2"}, "mark": {"type": "line", "clip": true},
 "encoding": {
  "x": {"field": "t", "type": "quantitative", "scale": {"domain": [-15.3, 314.3], "nice": false, "zero": false}, "axis": {"values": [0,50,100,150,200,250,300], "title": null}},
  "y": {"field": "v", "type": "quantitative", "scale": {"domain": [-0.048, 1.018], "nice": false, "zero": false}, "axis": {"values": [0,0.2,0.4,0.6,0.8,1], "format": ".1f", "title": "Hydrogen Bond 2"}}}},
{"width": 1163, "height": 168, "data": {"name": "h3"}, "mark": {"type": "line", "clip": true},
 "encoding": {
  "x": {"field": "t", "type": "quantitative", "scale": {"domain": [-15.3, 314.3], "nice": false, "zero": false}, "axis": {"values": [0,50,100,150,200,250,300], "title": null}},
  "y": {"field": "v", "type": "quantitative", "scale": {"domain": [-0.045, 1.015], "nice": false, "zero": false}, "axis": {"values": [0,0.2,0.4,0.6,0.8,1], "format": ".1f", "title": "Hydrogen Bond 3"}}}},
{"width": 1163, "height": 168, "data": {"name": "s"}, "mark": {"type": "line", "clip": true},
 "encoding": {
  "x": {"field": "t", "type": "quantitative", "scale": {"domain": [-15.3, 314.3], "nice": false, "zero": false}, "axis": {"values": [0,50,100,150,200,250,300], "title": "Time (ns)", "titlePadding": 5}},
  "y": {"field": "v", "type": "quantitative", "scale": {"domain": [-0.125, 2.875], "nice": false, "zero": false}, "axis": {"values": [0,1,2], "format": "d", "title": "Sum of H-Bonds"}}}}
]
}
